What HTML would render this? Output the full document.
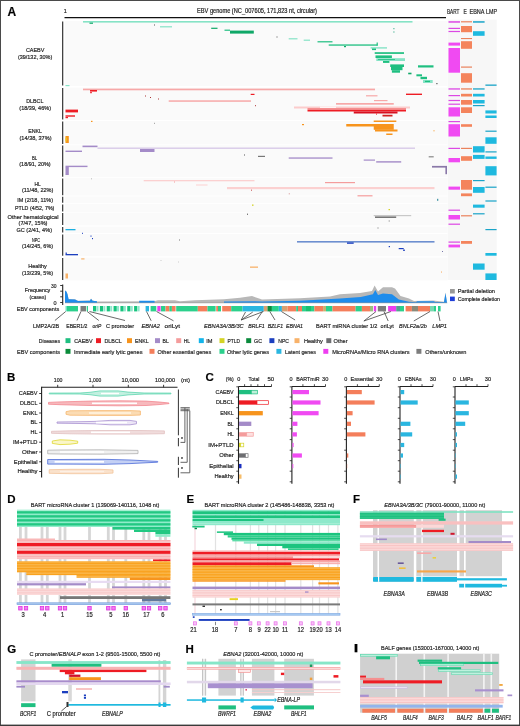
<!DOCTYPE html>
<html><head><meta charset="utf-8"><style>
html,body{margin:0;padding:0;background:#fff;}
body{width:520px;height:726px;overflow:hidden;}
svg{display:block;will-change:transform;font-family:"Liberation Sans",sans-serif;}
text{stroke:#2a2a2a;stroke-width:0.2px;}
</style></head><body>
<svg width="520" height="726" viewBox="0 0 520 726">
<rect x="0" y="0" width="520" height="726" fill="#fff"/>
<text x="7.50" y="15.50" font-size="12" text-anchor="start" fill="#000" font-weight="bold">A</text>
<text x="63.80" y="13.20" font-size="6.2" text-anchor="start" fill="#222" font-weight="normal" textLength="3.07" lengthAdjust="spacingAndGlyphs">1</text>
<text x="197.00" y="13.20" font-size="6.4" text-anchor="start" fill="#222" font-weight="normal" textLength="120" lengthAdjust="spacingAndGlyphs">EBV genome (NC_007605, 171,823 nt, circular)</text>
<line x1="64.50" y1="17.60" x2="446.00" y2="17.60" stroke="#111" stroke-width="1.2" />
<text x="447.00" y="14.40" font-size="6.6" text-anchor="start" fill="#222" font-weight="normal" textLength="12.4" lengthAdjust="spacingAndGlyphs">BART</text>
<text x="463.60" y="14.40" font-size="6.6" text-anchor="start" fill="#222" font-weight="normal" textLength="3.3" lengthAdjust="spacingAndGlyphs">E</text>
<text x="469.50" y="14.40" font-size="6.6" text-anchor="start" fill="#222" font-weight="normal" textLength="15" lengthAdjust="spacingAndGlyphs">EBNA</text>
<text x="486.00" y="14.40" font-size="6.6" text-anchor="start" fill="#222" font-weight="normal" textLength="11" lengthAdjust="spacingAndGlyphs">LMP</text>
<rect x="447.70" y="19.60" width="49.00" height="260.40" fill="#f7f7f7" />
<rect x="65.00" y="21.10" width="382.70" height="64.80" fill="#fafafa" />
<line x1="62.70" y1="21.50" x2="62.70" y2="85.50" stroke="#222" stroke-width="1.1" />
<text x="25.90" y="52.40" font-size="6.0" text-anchor="start" fill="#222" font-weight="normal" textLength="18.5" lengthAdjust="spacingAndGlyphs">CAEBV</text>
<text x="17.90" y="58.60" font-size="6.0" text-anchor="start" fill="#222" font-weight="normal" textLength="34.4" lengthAdjust="spacingAndGlyphs">(39/132, 30%)</text>
<rect x="65.00" y="87.60" width="382.70" height="32.40" fill="#fafafa" />
<line x1="62.70" y1="88.00" x2="62.70" y2="119.60" stroke="#222" stroke-width="1.1" />
<text x="26.20" y="103.00" font-size="6.0" text-anchor="start" fill="#222" font-weight="normal" textLength="17.2" lengthAdjust="spacingAndGlyphs">DLBCL</text>
<text x="19.30" y="109.60" font-size="6.0" text-anchor="start" fill="#222" font-weight="normal" textLength="31.7" lengthAdjust="spacingAndGlyphs">(18/39, 46%)</text>
<rect x="65.00" y="121.00" width="382.70" height="23.40" fill="#fafafa" />
<line x1="62.70" y1="121.40" x2="62.70" y2="144.00" stroke="#222" stroke-width="1.1" />
<text x="28.20" y="133.40" font-size="6.0" text-anchor="start" fill="#222" font-weight="normal" textLength="13.8" lengthAdjust="spacingAndGlyphs">ENKL</text>
<text x="19.50" y="139.80" font-size="6.0" text-anchor="start" fill="#222" font-weight="normal" textLength="32.0" lengthAdjust="spacingAndGlyphs">(14/38, 37%)</text>
<rect x="65.00" y="145.20" width="382.70" height="32.00" fill="#fafafa" />
<line x1="62.70" y1="145.60" x2="62.70" y2="176.80" stroke="#222" stroke-width="1.1" />
<text x="32.00" y="159.50" font-size="6.0" text-anchor="start" fill="#222" font-weight="normal" textLength="5.2" lengthAdjust="spacingAndGlyphs">BL</text>
<text x="19.30" y="166.00" font-size="6.0" text-anchor="start" fill="#222" font-weight="normal" textLength="31.4" lengthAdjust="spacingAndGlyphs">(18/91, 20%)</text>
<rect x="65.00" y="178.10" width="382.70" height="17.50" fill="#fafafa" />
<line x1="62.70" y1="178.50" x2="62.70" y2="195.20" stroke="#222" stroke-width="1.1" />
<text x="34.40" y="186.30" font-size="6.0" text-anchor="start" fill="#222" font-weight="normal" textLength="6.2" lengthAdjust="spacingAndGlyphs">HL</text>
<text x="22.00" y="192.20" font-size="6.0" text-anchor="start" fill="#222" font-weight="normal" textLength="31.4" lengthAdjust="spacingAndGlyphs">(11/48, 22%)</text>
<rect x="65.00" y="196.40" width="382.70" height="6.80" fill="#fafafa" />
<line x1="62.70" y1="196.80" x2="62.70" y2="202.80" stroke="#222" stroke-width="1.1" />
<text x="17.20" y="202.20" font-size="6.0" text-anchor="start" fill="#222" font-weight="normal" textLength="35.8" lengthAdjust="spacingAndGlyphs">IM (2/18, 11%)</text>
<rect x="65.00" y="204.10" width="382.70" height="7.80" fill="#fafafa" />
<line x1="62.70" y1="204.50" x2="62.70" y2="211.50" stroke="#222" stroke-width="1.1" />
<text x="14.90" y="210.00" font-size="6.0" text-anchor="start" fill="#222" font-weight="normal" textLength="39.5" lengthAdjust="spacingAndGlyphs">PTLD (4/52, 7%)</text>
<rect x="65.00" y="212.60" width="382.70" height="12.80" fill="#fafafa" />
<line x1="62.70" y1="213.00" x2="62.70" y2="225.00" stroke="#222" stroke-width="1.1" />
<text x="7.60" y="218.70" font-size="6.0" text-anchor="start" fill="#222" font-weight="normal" textLength="50.9" lengthAdjust="spacingAndGlyphs">Other hematological</text>
<text x="18.60" y="225.40" font-size="6.0" text-anchor="start" fill="#222" font-weight="normal" textLength="28.9" lengthAdjust="spacingAndGlyphs">(7/47, 15%)</text>
<rect x="65.00" y="226.60" width="382.70" height="6.40" fill="#fafafa" />
<line x1="62.70" y1="227.00" x2="62.70" y2="232.60" stroke="#222" stroke-width="1.1" />
<text x="16.50" y="231.90" font-size="6.0" text-anchor="start" fill="#222" font-weight="normal" textLength="35.5" lengthAdjust="spacingAndGlyphs">GC (2/41, 4%)</text>
<rect x="65.00" y="234.00" width="382.70" height="22.20" fill="#fafafa" />
<line x1="62.70" y1="234.40" x2="62.70" y2="255.80" stroke="#222" stroke-width="1.1" />
<text x="32.00" y="241.70" font-size="6.0" text-anchor="start" fill="#222" font-weight="normal" textLength="8" lengthAdjust="spacingAndGlyphs">NPC</text>
<text x="22.00" y="248.30" font-size="6.0" text-anchor="start" fill="#222" font-weight="normal" textLength="31" lengthAdjust="spacingAndGlyphs">(14/245, 6%)</text>
<rect x="65.00" y="257.60" width="382.70" height="22.80" fill="#fafafa" />
<line x1="62.70" y1="258.00" x2="62.70" y2="280.00" stroke="#222" stroke-width="1.1" />
<text x="28.20" y="268.30" font-size="6.0" text-anchor="start" fill="#222" font-weight="normal" textLength="18.6" lengthAdjust="spacingAndGlyphs">Healthy</text>
<text x="22.00" y="274.60" font-size="6.0" text-anchor="start" fill="#222" font-weight="normal" textLength="31" lengthAdjust="spacingAndGlyphs">(13/239, 5%)</text>
<rect x="83.00" y="21.00" width="329.50" height="1.60" fill="#86e3c6" />
<rect x="89.50" y="22.60" width="3.50" height="1.20" fill="#10a868" />
<rect x="160.00" y="26.20" width="12.00" height="1.20" fill="#86e3c6" />
<rect x="154.00" y="24.50" width="1.00" height="1.00" fill="#555" />
<rect x="393.30" y="28.20" width="1.20" height="1.00" fill="#3a8" />
<rect x="393.30" y="31.50" width="1.20" height="1.00" fill="#3a8" />
<rect x="65.50" y="85.00" width="4.00" height="1.20" fill="#86e3c6" />
<rect x="211.20" y="27.70" width="6.30" height="1.20" fill="#10a868" />
<rect x="224.50" y="29.60" width="5.50" height="1.20" fill="#1fbf80" />
<rect x="230.00" y="30.60" width="23.80" height="3.00" fill="#10a868" />
<rect x="276.50" y="36.50" width="1.00" height="1.00" fill="#555" />
<rect x="288.70" y="38.20" width="8.80" height="1.20" fill="#86e3c6" />
<rect x="303.70" y="39.60" width="6.30" height="1.20" fill="#86e3c6" />
<rect x="317.50" y="41.20" width="15.00" height="1.20" fill="#1fbf80" />
<rect x="328.70" y="44.40" width="48.80" height="1.30" fill="#1fbf80" />
<rect x="344.00" y="46.00" width="2.00" height="1.20" fill="#10a868" />
<rect x="376.60" y="42.50" width="1.20" height="3.20" fill="#1fbf80" />
<rect x="370.60" y="47.20" width="16.40" height="1.40" fill="#86e3c6" />
<rect x="372.00" y="48.50" width="4.00" height="1.60" fill="#1fbf80" />
<rect x="374.70" y="52.20" width="29.30" height="1.70" fill="#1fbf80" />
<rect x="375.50" y="55.40" width="16.40" height="2.60" fill="#1fbf80" />
<rect x="376.30" y="58.20" width="28.70" height="2.80" fill="#86e3c6" />
<rect x="378.00" y="59.20" width="17.00" height="0.80" fill="#1fbf80" />
<rect x="383.00" y="61.00" width="6.40" height="1.90" fill="#1fbf80" />
<rect x="390.20" y="64.40" width="13.80" height="2.60" fill="#1fbf80" />
<rect x="391.00" y="67.00" width="11.50" height="3.20" fill="#1fbf80" />
<rect x="391.90" y="70.20" width="8.10" height="2.50" fill="#1fbf80" />
<rect x="418.00" y="65.30" width="15.50" height="2.20" fill="#1fbf80" />
<rect x="408.20" y="72.70" width="3.30" height="1.60" fill="#10a868" />
<rect x="416.40" y="74.30" width="5.60" height="2.00" fill="#1fbf80" />
<rect x="420.50" y="76.80" width="6.50" height="2.40" fill="#1fbf80" />
<rect x="423.00" y="80.00" width="9.70" height="3.00" fill="#86e3c6" />
<rect x="425.00" y="80.80" width="5.00" height="1.20" fill="#1fbf80" />
<rect x="436.30" y="83.00" width="1.20" height="1.20" fill="#555" />
<rect x="83.00" y="88.60" width="292.00" height="1.70" fill="#f7a8a8" />
<rect x="90.00" y="90.00" width="7.00" height="1.60" fill="#ee1c24" />
<rect x="90.00" y="92.20" width="2.00" height="1.00" fill="#ee1c24" />
<rect x="145.00" y="95.50" width="1.00" height="1.00" fill="#a33" />
<rect x="150.00" y="97.00" width="1.00" height="1.00" fill="#a33" />
<rect x="158.00" y="98.50" width="1.00" height="1.00" fill="#a33" />
<rect x="250.70" y="93.80" width="3.80" height="1.20" fill="#ee1c24" />
<rect x="406.00" y="93.60" width="16.00" height="1.40" fill="#ee1c24" />
<rect x="366.00" y="95.20" width="11.50" height="1.20" fill="#f7a8a8" />
<rect x="168.70" y="100.30" width="82.30" height="1.50" fill="#f7a8a8" />
<rect x="374.00" y="100.00" width="13.50" height="1.20" fill="#f7a8a8" />
<rect x="255.00" y="105.20" width="1.00" height="1.00" fill="#a33" />
<rect x="336.00" y="103.00" width="57.75" height="1.70" fill="#f7a8a8" />
<rect x="294.00" y="106.50" width="116.00" height="2.00" fill="#fbcccc" />
<rect x="320.00" y="106.50" width="16.00" height="2.00" fill="#fff4f4" />
<rect x="65.50" y="109.60" width="12.50" height="2.80" fill="#ee1c24" />
<rect x="307.50" y="108.00" width="98.50" height="1.75" fill="#f59090" />
<rect x="307.50" y="109.75" width="98.50" height="1.75" fill="#ee1c24" />
<rect x="353.75" y="111.50" width="43.75" height="2.00" fill="#d81020" />
<rect x="376.00" y="113.60" width="1.00" height="1.00" fill="#ee1c24" />
<rect x="382.50" y="114.75" width="10.00" height="1.75" fill="#d02020" />
<rect x="65.50" y="115.30" width="9.50" height="1.40" fill="#ee1c24" />
<rect x="65.50" y="117.00" width="2.50" height="1.20" fill="#ee1c24" />
<rect x="91.00" y="120.80" width="1.50" height="1.20" fill="#f7941d" />
<rect x="154.00" y="122.80" width="1.00" height="1.00" fill="#999" />
<rect x="302.00" y="124.00" width="2.00" height="1.20" fill="#f7941d" />
<rect x="373.70" y="120.50" width="22.60" height="1.50" fill="#f7941d" />
<rect x="346.25" y="124.00" width="30.00" height="2.50" fill="#f7941d" />
<rect x="373.75" y="124.00" width="20.00" height="5.80" fill="#f7941d" />
<rect x="375.00" y="129.50" width="22.50" height="2.00" fill="#f7941d" />
<rect x="386.25" y="133.50" width="6.25" height="1.50" fill="#f7941d" />
<rect x="433.50" y="130.30" width="1.00" height="1.00" fill="#f7941d" />
<rect x="65.50" y="136.00" width="3.30" height="7.00" fill="#f7941d" />
<rect x="65.50" y="137.50" width="1.50" height="4.00" fill="#e8c020" />
<rect x="82.50" y="145.60" width="15.00" height="1.60" fill="#a48bc8" />
<rect x="97.50" y="147.50" width="317.50" height="1.40" fill="#d8c9e8" />
<rect x="65.50" y="150.60" width="16.50" height="1.40" fill="#a48bc8" />
<rect x="140.00" y="149.00" width="14.50" height="3.00" fill="#a48bc8" />
<rect x="244.00" y="154.50" width="1.00" height="1.00" fill="#555" />
<rect x="258.00" y="155.80" width="7.00" height="1.20" fill="#777" />
<rect x="288.70" y="157.40" width="43.80" height="1.30" fill="#a48bc8" />
<rect x="363.70" y="159.50" width="11.30" height="1.20" fill="#a48bc8" />
<rect x="376.20" y="161.20" width="25.00" height="1.40" fill="#a48bc8" />
<rect x="428.70" y="156.20" width="5.00" height="1.20" fill="#888" />
<rect x="432.00" y="165.90" width="15.00" height="1.70" fill="#8a78a8" />
<rect x="445.40" y="166.00" width="1.60" height="8.20" fill="#8a78a8" />
<rect x="65.50" y="165.70" width="22.00" height="1.40" fill="#a48bc8" />
<rect x="65.50" y="167.00" width="3.30" height="8.00" fill="#a48bc8" />
<rect x="91.00" y="178.30" width="1.00" height="1.00" fill="#bbb" />
<rect x="143.70" y="180.00" width="110.80" height="1.30" fill="#fbd0d0" />
<rect x="174.00" y="181.50" width="1.00" height="1.00" fill="#f49c9c" />
<rect x="196.00" y="184.50" width="11.50" height="1.00" fill="#fbd0d0" />
<rect x="227.00" y="187.00" width="207.50" height="2.20" fill="#fbd0d0" />
<rect x="251.00" y="189.60" width="1.00" height="1.20" fill="#c66" />
<rect x="288.70" y="193.30" width="1.30" height="1.00" fill="#daa" />
<rect x="325.00" y="182.00" width="30.00" height="1.20" fill="#f49c9c" />
<rect x="357.50" y="195.20" width="15.00" height="1.20" fill="#f49c9c" />
<rect x="437.00" y="198.80" width="1.30" height="2.00" fill="#4a9aa8" />
<rect x="252.00" y="204.50" width="1.50" height="1.30" fill="#d4d324" />
<rect x="388.50" y="209.00" width="1.50" height="1.20" fill="#d4d324" />
<rect x="247.00" y="213.70" width="1.00" height="1.00" fill="#444" />
<rect x="373.70" y="215.00" width="37.50" height="1.20" fill="#c8c8c8" />
<rect x="375.00" y="216.40" width="21.20" height="1.60" fill="#777" />
<rect x="388.70" y="220.50" width="1.00" height="1.00" fill="#777" />
<rect x="377.50" y="227.50" width="1.00" height="1.00" fill="#777" />
<rect x="65.50" y="229.00" width="10.00" height="1.30" fill="#1aaee0" />
<rect x="82.00" y="232.80" width="1.00" height="1.00" fill="#1c3fbf" />
<rect x="90.50" y="235.50" width="1.00" height="1.20" fill="#1c3fbf" />
<rect x="92.00" y="238.00" width="1.00" height="1.20" fill="#1c3fbf" />
<rect x="179.00" y="239.50" width="1.00" height="1.00" fill="#777" />
<rect x="297.00" y="241.00" width="137.50" height="1.60" fill="#6d8fd0" />
<rect x="347.00" y="242.40" width="6.70" height="1.40" fill="#1c3fbf" />
<rect x="388.70" y="246.00" width="1.30" height="1.20" fill="#1c3fbf" />
<rect x="398.70" y="248.00" width="5.00" height="1.20" fill="#1c3fbf" />
<rect x="403.00" y="249.60" width="2.00" height="1.20" fill="#1c3fbf" />
<rect x="442.00" y="251.00" width="1.00" height="1.00" fill="#77a" />
<rect x="65.50" y="254.00" width="12.50" height="1.30" fill="#1c3fbf" />
<rect x="65.50" y="252.60" width="1.50" height="1.20" fill="#1c3fbf" />
<rect x="81.20" y="258.30" width="3.30" height="1.20" fill="#f8b26a" />
<rect x="160.50" y="260.00" width="1.00" height="1.00" fill="#ccc" />
<rect x="178.00" y="261.50" width="1.00" height="1.00" fill="#ccc" />
<rect x="250.00" y="266.50" width="8.00" height="1.30" fill="#f8b26a" />
<rect x="441.00" y="271.50" width="1.00" height="1.10" fill="#f8b26a" />
<rect x="65.50" y="273.50" width="2.50" height="5.00" fill="#f8b26a" />
<rect x="448.50" y="21.20" width="11.50" height="1.50" fill="#dc48e4" />
<rect x="461.00" y="21.20" width="11.00" height="1.20" fill="#ea825c" />
<rect x="473.00" y="21.20" width="11.60" height="1.50" fill="#1aa4c8" />
<rect x="448.50" y="27.80" width="11.50" height="1.20" fill="#dc48e4" />
<rect x="448.50" y="30.90" width="11.50" height="1.20" fill="#dc48e4" />
<rect x="461.00" y="26.00" width="11.00" height="6.20" fill="#f4845c" />
<rect x="473.00" y="31.20" width="11.60" height="4.60" fill="#1fb9df" />
<rect x="461.00" y="38.00" width="11.00" height="1.10" fill="#ea825c" />
<rect x="448.50" y="42.60" width="11.50" height="3.00" fill="#f04af2" />
<rect x="461.00" y="41.20" width="11.00" height="7.60" fill="#f4845c" />
<rect x="448.50" y="48.00" width="11.50" height="24.70" fill="#f04af2" />
<rect x="461.00" y="66.50" width="11.00" height="1.20" fill="#ea825c" />
<rect x="461.00" y="73.20" width="11.00" height="9.50" fill="#f4845c" />
<rect x="485.40" y="84.50" width="11.20" height="1.30" fill="#1aa4c8" />
<rect x="448.50" y="88.30" width="11.50" height="1.30" fill="#dc48e4" />
<rect x="461.00" y="88.30" width="11.00" height="1.30" fill="#ea825c" />
<rect x="473.00" y="88.30" width="11.60" height="1.30" fill="#1aa4c8" />
<rect x="448.50" y="95.00" width="11.50" height="1.20" fill="#dc48e4" />
<rect x="461.00" y="93.80" width="11.00" height="2.70" fill="#f4845c" />
<rect x="473.00" y="93.80" width="11.60" height="2.70" fill="#1fb9df" />
<rect x="448.50" y="99.90" width="11.50" height="1.20" fill="#dc48e4" />
<rect x="448.50" y="103.60" width="11.50" height="1.20" fill="#dc48e4" />
<rect x="461.00" y="100.00" width="11.00" height="4.70" fill="#f4845c" />
<rect x="473.00" y="100.00" width="11.60" height="3.50" fill="#1fb9df" />
<rect x="473.00" y="105.00" width="11.60" height="1.20" fill="#1aa4c8" />
<rect x="448.50" y="107.30" width="11.50" height="9.20" fill="#f04af2" />
<rect x="461.00" y="107.30" width="11.00" height="5.70" fill="#f4845c" />
<rect x="485.40" y="110.40" width="11.20" height="3.10" fill="#1fb9df" />
<rect x="485.40" y="115.50" width="11.20" height="2.50" fill="#1fb9df" />
<rect x="448.50" y="121.00" width="11.50" height="1.20" fill="#dc48e4" />
<rect x="448.50" y="124.20" width="11.50" height="12.30" fill="#f04af2" />
<rect x="461.00" y="124.20" width="11.00" height="2.60" fill="#f4845c" />
<rect x="485.40" y="130.60" width="11.20" height="1.20" fill="#1aa4c8" />
<rect x="485.40" y="137.30" width="11.20" height="6.50" fill="#1fb9df" />
<rect x="448.50" y="147.80" width="11.50" height="1.20" fill="#dc48e4" />
<rect x="461.00" y="147.80" width="11.00" height="1.20" fill="#ea825c" />
<rect x="473.00" y="146.20" width="11.60" height="6.30" fill="#1fb9df" />
<rect x="485.40" y="151.30" width="11.20" height="1.20" fill="#1aa4c8" />
<rect x="473.00" y="154.90" width="11.60" height="4.00" fill="#1fb9df" />
<rect x="485.40" y="156.50" width="11.20" height="2.40" fill="#1fb9df" />
<rect x="448.50" y="158.00" width="11.50" height="4.30" fill="#f04af2" />
<rect x="461.00" y="156.20" width="11.00" height="4.60" fill="#f4845c" />
<rect x="485.40" y="166.20" width="11.20" height="9.20" fill="#1fb9df" />
<rect x="461.00" y="180.00" width="11.00" height="9.70" fill="#f4845c" />
<rect x="473.00" y="180.00" width="11.60" height="1.20" fill="#1aa4c8" />
<rect x="448.50" y="186.60" width="11.50" height="3.10" fill="#f04af2" />
<rect x="473.00" y="187.00" width="11.60" height="5.80" fill="#1fb9df" />
<rect x="485.40" y="186.60" width="11.20" height="1.20" fill="#1aa4c8" />
<rect x="461.00" y="193.40" width="11.00" height="2.80" fill="#f4845c" />
<rect x="485.40" y="200.40" width="11.20" height="1.20" fill="#1aa4c8" />
<rect x="473.00" y="204.60" width="11.60" height="3.10" fill="#1fb9df" />
<rect x="448.50" y="209.60" width="11.50" height="1.20" fill="#dc48e4" />
<rect x="473.00" y="213.20" width="11.60" height="1.20" fill="#1aa4c8" />
<rect x="461.00" y="215.20" width="11.00" height="1.20" fill="#ea825c" />
<rect x="448.50" y="215.00" width="11.50" height="4.50" fill="#f04af2" />
<rect x="448.50" y="223.60" width="11.50" height="1.20" fill="#dc48e4" />
<rect x="485.40" y="229.00" width="11.20" height="1.20" fill="#1aa4c8" />
<rect x="448.50" y="241.50" width="11.50" height="1.20" fill="#dc48e4" />
<rect x="461.00" y="241.00" width="11.00" height="2.80" fill="#f4845c" />
<rect x="448.50" y="244.60" width="11.50" height="2.80" fill="#f04af2" />
<rect x="485.40" y="253.00" width="11.20" height="2.70" fill="#1fb9df" />
<rect x="473.00" y="263.50" width="11.60" height="6.20" fill="#1fb9df" />
<rect x="485.40" y="273.40" width="11.20" height="6.60" fill="#1fb9df" />
<line x1="62.70" y1="284.40" x2="62.70" y2="305.00" stroke="#222" stroke-width="1.1" />
<line x1="60.20" y1="285.50" x2="62.70" y2="285.50" stroke="#222" stroke-width="0.9" />
<line x1="60.20" y1="291.20" x2="62.70" y2="291.20" stroke="#222" stroke-width="0.9" />
<line x1="60.20" y1="296.80" x2="62.70" y2="296.80" stroke="#222" stroke-width="0.9" />
<line x1="60.20" y1="302.50" x2="62.70" y2="302.50" stroke="#222" stroke-width="0.9" />
<text x="51.00" y="288.10" font-size="6.2" text-anchor="start" fill="#222" font-weight="normal" textLength="5.5" lengthAdjust="spacingAndGlyphs">30</text>
<text x="53.40" y="305.00" font-size="6.2" text-anchor="start" fill="#222" font-weight="normal" textLength="3.07" lengthAdjust="spacingAndGlyphs">0</text>
<text x="24.80" y="291.80" font-size="6.2" text-anchor="start" fill="#222" font-weight="normal" textLength="25.5" lengthAdjust="spacingAndGlyphs">Frequency</text>
<text x="29.60" y="298.60" font-size="6.2" text-anchor="start" fill="#222" font-weight="normal" textLength="16.5" lengthAdjust="spacingAndGlyphs">(cases)</text>
<path d="M65,303 L65,290.4 L66.5,291.5 L67.5,294 L68.6,299 L75,299.2 L78,300.7 L90,300.5 L91,298.5 L92.5,300.5 L97,301.5 L154,301.2 L158,300.2 L175,300.2 L180,301.2 L195,300.3 L224,299.3 L240,297.8 L252,296 L256,297.5 L262,299.5 L300,298.3 L330,296.5 L340,294.2 L360,293 L372,291 L374.6,285.6 L378,291.5 L383,287.3 L392,287.3 L395,288.5 L400.5,296 L409,298.4 L414,301 L433,300.4 L444,301.8 L445.5,292.5 L447,303 Z" fill="#b8b8b8" />
<path d="M65,303 L65,290.6 L66.5,291.8 L67.5,294.2 L68.6,299.3 L75,299.4 L78,301 L90,300.8 L91,298.7 L92.5,300.8 L97,301.2 L97,303 L139.2,303 L139.2,300.8 L154.6,300.8 L154.6,303 L224,303 L224,301.4 L255,301.2 L262,301.6 L300,300.8 L340,298.4 L360.8,297 L372.9,294.2 L375.3,290 L378,295 L383,293.5 L392,294.2 L398.8,299.4 L409,301.8 L416,302.2 L417,301.2 L434,301.2 L435,302 L444,302 L445.5,293 L447,303 Z" fill="#1e8cec" />
<rect x="65.00" y="302.60" width="382.30" height="0.60" fill="#9a9a9a" />
<rect x="450.00" y="289.00" width="4.80" height="4.50" fill="#999" />
<text x="457.70" y="293.20" font-size="5.8" text-anchor="start" fill="#222" font-weight="normal" textLength="37.3" lengthAdjust="spacingAndGlyphs">Partial deletion</text>
<rect x="450.00" y="296.60" width="4.80" height="4.50" fill="#1f3fd8" />
<text x="457.70" y="300.80" font-size="5.8" text-anchor="start" fill="#222" font-weight="normal" textLength="42.3" lengthAdjust="spacingAndGlyphs">Complete deletion</text>
<text x="16.80" y="311.20" font-size="6.2" text-anchor="start" fill="#222" font-weight="normal" textLength="42.4" lengthAdjust="spacingAndGlyphs">EBV components</text>
<rect x="65.50" y="306.00" width="1.50" height="5.40" fill="#6fe3c0" />
<rect x="67.00" y="306.00" width="11.00" height="5.40" fill="#2bd08c" />
<rect x="80.50" y="306.00" width="5.50" height="5.40" fill="#7d7d7d" />
<rect x="86.70" y="306.00" width="1.30" height="5.40" fill="#2bd08c" />
<rect x="93.00" y="306.00" width="3.20" height="5.40" fill="#18c47e" />
<rect x="96.50" y="306.00" width="2.00" height="5.40" fill="#8fe8cc" />
<rect x="99.85" y="306.00" width="3.20" height="5.40" fill="#18c47e" />
<rect x="103.35" y="306.00" width="2.00" height="5.40" fill="#8fe8cc" />
<rect x="106.70" y="306.00" width="3.20" height="5.40" fill="#18c47e" />
<rect x="110.20" y="306.00" width="2.00" height="5.40" fill="#8fe8cc" />
<rect x="113.55" y="306.00" width="3.20" height="5.40" fill="#18c47e" />
<rect x="117.05" y="306.00" width="2.00" height="5.40" fill="#8fe8cc" />
<rect x="120.40" y="306.00" width="3.20" height="5.40" fill="#18c47e" />
<rect x="123.90" y="306.00" width="2.00" height="5.40" fill="#8fe8cc" />
<rect x="127.25" y="306.00" width="3.20" height="5.40" fill="#18c47e" />
<rect x="130.75" y="306.00" width="2.00" height="5.40" fill="#8fe8cc" />
<rect x="134.10" y="306.00" width="3.20" height="5.40" fill="#18c47e" />
<rect x="137.60" y="306.00" width="2.00" height="5.40" fill="#8fe8cc" />
<rect x="145.60" y="306.00" width="3.40" height="5.40" fill="#2ab6e0" />
<rect x="150.60" y="306.00" width="5.70" height="5.40" fill="#2bd08c" />
<rect x="157.30" y="306.00" width="3.30" height="5.40" fill="#ee3ef0" />
<rect x="161.00" y="306.00" width="4.50" height="5.40" fill="#2bd08c" />
<rect x="165.60" y="306.00" width="3.80" height="5.40" fill="#f47e5b" />
<rect x="169.40" y="306.00" width="2.50" height="5.40" fill="#2bd08c" />
<rect x="171.90" y="306.00" width="3.70" height="5.40" fill="#f47e5b" />
<rect x="176.20" y="306.00" width="21.60" height="5.40" fill="#2bd08c" />
<rect x="197.80" y="306.00" width="9.70" height="5.40" fill="#f47e5b" />
<rect x="207.50" y="306.00" width="8.10" height="5.40" fill="#2bd08c" />
<rect x="216.20" y="306.00" width="1.80" height="5.40" fill="#f47e5b" />
<rect x="218.00" y="306.00" width="3.00" height="5.40" fill="#2bd08c" />
<rect x="222.20" y="306.00" width="9.00" height="5.40" fill="#f47e5b" />
<rect x="231.20" y="306.00" width="11.30" height="5.40" fill="#2bd08c" />
<rect x="242.50" y="306.00" width="21.30" height="5.40" fill="#2ab6e0" />
<rect x="263.80" y="306.00" width="3.70" height="5.40" fill="#d9a070" />
<rect x="267.50" y="306.00" width="4.40" height="5.40" fill="#0b8c3a" />
<rect x="271.90" y="306.00" width="6.90" height="5.40" fill="#2bd08c" />
<rect x="278.80" y="306.00" width="3.10" height="5.40" fill="#2ab6e0" />
<rect x="281.90" y="306.00" width="5.60" height="5.40" fill="#d9a070" />
<rect x="287.50" y="306.00" width="8.70" height="5.40" fill="#f47e5b" />
<rect x="296.20" y="306.00" width="1.80" height="5.40" fill="#2bd08c" />
<rect x="298.00" y="306.00" width="4.00" height="5.40" fill="#f47e5b" />
<rect x="302.00" y="306.00" width="4.00" height="5.40" fill="#2bd08c" />
<rect x="306.00" y="306.00" width="5.00" height="5.40" fill="#19c070" />
<rect x="311.00" y="306.00" width="3.40" height="5.40" fill="#2bd08c" />
<rect x="314.40" y="306.00" width="8.70" height="5.40" fill="#f47e5b" />
<rect x="323.10" y="306.00" width="2.90" height="5.40" fill="#c9b070" />
<rect x="326.00" y="306.00" width="6.50" height="5.40" fill="#2bd08c" />
<rect x="332.50" y="306.00" width="23.10" height="5.40" fill="#f47e5b" />
<rect x="355.60" y="306.00" width="6.30" height="5.40" fill="#2bd08c" />
<rect x="361.90" y="306.00" width="8.10" height="5.40" fill="#f47e5b" />
<rect x="370.00" y="306.00" width="3.00" height="5.40" fill="#9ac080" />
<rect x="373.80" y="306.00" width="2.40" height="5.40" fill="#ee3ef0" />
<rect x="377.80" y="306.00" width="8.20" height="5.40" fill="#7d7d7d" />
<rect x="388.10" y="306.00" width="8.10" height="5.40" fill="#ee3ef0" />
<rect x="396.20" y="306.00" width="3.80" height="5.40" fill="#55a090" />
<rect x="400.00" y="306.00" width="4.00" height="5.40" fill="#2bd08c" />
<rect x="405.60" y="306.00" width="6.30" height="5.40" fill="#f47e5b" />
<rect x="411.90" y="306.00" width="6.10" height="5.40" fill="#8a8a7a" />
<rect x="418.00" y="306.00" width="12.00" height="5.40" fill="#f47e5b" />
<rect x="430.00" y="306.00" width="4.00" height="5.40" fill="#7ad8b0" />
<rect x="434.00" y="306.00" width="2.00" height="5.40" fill="#2bd08c" />
<rect x="438.00" y="306.00" width="2.60" height="5.40" fill="#2bd08c" />
<line x1="65.70" y1="311.50" x2="54.90" y2="320.50" stroke="#444" stroke-width="0.8" />
<line x1="81.00" y1="311.50" x2="77.00" y2="320.50" stroke="#444" stroke-width="0.8" />
<line x1="87.20" y1="311.50" x2="98.80" y2="320.50" stroke="#444" stroke-width="0.8" />
<line x1="89.50" y1="311.50" x2="125.00" y2="320.50" stroke="#444" stroke-width="0.8" />
<line x1="146.50" y1="311.50" x2="151.20" y2="320.80" stroke="#444" stroke-width="0.8" />
<line x1="156.50" y1="311.50" x2="173.50" y2="320.80" stroke="#444" stroke-width="0.8" />
<line x1="245.50" y1="312.00" x2="241.20" y2="320.00" stroke="#444" stroke-width="0.8" />
<line x1="252.80" y1="312.00" x2="241.20" y2="320.00" stroke="#444" stroke-width="0.8" />
<line x1="263.40" y1="311.50" x2="241.20" y2="320.00" stroke="#444" stroke-width="0.8" />
<line x1="262.40" y1="311.50" x2="256.70" y2="320.00" stroke="#444" stroke-width="0.8" />
<line x1="269.80" y1="311.50" x2="275.00" y2="320.00" stroke="#444" stroke-width="0.8" />
<line x1="281.40" y1="311.50" x2="295.10" y2="320.00" stroke="#444" stroke-width="0.8" />
<line x1="376.00" y1="311.50" x2="363.90" y2="321.00" stroke="#444" stroke-width="0.8" />
<line x1="390.90" y1="311.50" x2="363.90" y2="321.00" stroke="#444" stroke-width="0.8" />
<line x1="384.00" y1="311.50" x2="388.20" y2="321.00" stroke="#444" stroke-width="0.8" />
<line x1="430.00" y1="311.50" x2="413.80" y2="321.00" stroke="#444" stroke-width="0.8" />
<line x1="438.00" y1="311.50" x2="440.00" y2="321.00" stroke="#444" stroke-width="0.8" />
<text x="33.00" y="328.40" font-size="6.2" text-anchor="start" fill="#222" font-weight="normal" textLength="26.2" lengthAdjust="spacingAndGlyphs">LMP2A/2B</text>
<text x="66.20" y="328.40" font-size="6.2" text-anchor="start" fill="#222" font-weight="normal" textLength="21.3" lengthAdjust="spacingAndGlyphs">EBER1/2</text>
<text x="92.50" y="328.40" font-size="6.2" text-anchor="start" fill="#222" font-weight="normal" font-style="italic" textLength="8.7" lengthAdjust="spacingAndGlyphs">oriP</text>
<text x="106.00" y="328.40" font-size="6.2" text-anchor="start" fill="#222" font-weight="normal" textLength="28" lengthAdjust="spacingAndGlyphs">C promoter</text>
<text x="141.50" y="328.40" font-size="6.2" text-anchor="start" fill="#222" font-weight="normal" font-style="italic" textLength="18.5" lengthAdjust="spacingAndGlyphs">EBNA2</text>
<text x="164.60" y="328.40" font-size="6.2" text-anchor="start" fill="#222" font-weight="normal" textLength="15.4" lengthAdjust="spacingAndGlyphs">oriLyt</text>
<text x="204.00" y="328.40" font-size="6.2" text-anchor="start" fill="#222" font-weight="normal" font-style="italic" textLength="39.7" lengthAdjust="spacingAndGlyphs">EBNA3A/3B/3C</text>
<text x="248.30" y="328.40" font-size="6.2" text-anchor="start" fill="#222" font-weight="normal" font-style="italic" textLength="16.3" lengthAdjust="spacingAndGlyphs">BRLF1</text>
<text x="267.70" y="328.40" font-size="6.2" text-anchor="start" fill="#222" font-weight="normal" font-style="italic" textLength="15.3" lengthAdjust="spacingAndGlyphs">BZLF1</text>
<text x="286.00" y="328.40" font-size="6.2" text-anchor="start" fill="#222" font-weight="normal" font-style="italic" textLength="17" lengthAdjust="spacingAndGlyphs">EBNA1</text>
<text x="316.00" y="328.40" font-size="6.2" text-anchor="start" fill="#222" font-weight="normal" textLength="61.5" lengthAdjust="spacingAndGlyphs">BART miRNA cluster 1/2</text>
<text x="380.60" y="328.40" font-size="6.2" text-anchor="start" fill="#222" font-weight="normal" textLength="13.2" lengthAdjust="spacingAndGlyphs">oriLyt</text>
<text x="399.00" y="328.40" font-size="6.2" text-anchor="start" fill="#222" font-weight="normal" font-style="italic" textLength="27.8" lengthAdjust="spacingAndGlyphs">BNLF2a/2b</text>
<text x="432.30" y="328.40" font-size="6.2" text-anchor="start" fill="#222" font-weight="normal" font-style="italic" textLength="14.7" lengthAdjust="spacingAndGlyphs">LMP1</text>
<text x="60.00" y="342.80" font-size="6.2" text-anchor="end" fill="#222" font-weight="normal" textLength="21.2" lengthAdjust="spacingAndGlyphs">Diseases</text>
<rect x="65.50" y="338.20" width="5.00" height="4.90" fill="#1fbf80" />
<text x="74.20" y="342.80" font-size="6.2" text-anchor="start" fill="#222" font-weight="normal" textLength="18.3" lengthAdjust="spacingAndGlyphs">CAEBV</text>
<rect x="96.00" y="338.20" width="5.00" height="4.90" fill="#ee1c24" />
<text x="104.50" y="342.80" font-size="6.2" text-anchor="start" fill="#222" font-weight="normal" textLength="17.3" lengthAdjust="spacingAndGlyphs">DLBCL</text>
<rect x="127.00" y="338.20" width="5.00" height="4.90" fill="#f7941d" />
<text x="135.00" y="342.80" font-size="6.2" text-anchor="start" fill="#222" font-weight="normal" textLength="13.8" lengthAdjust="spacingAndGlyphs">ENKL</text>
<rect x="155.00" y="338.20" width="5.00" height="4.90" fill="#a48bc8" />
<text x="162.50" y="342.80" font-size="6.2" text-anchor="start" fill="#222" font-weight="normal" textLength="6.3" lengthAdjust="spacingAndGlyphs">BL</text>
<rect x="176.20" y="338.20" width="5.00" height="4.90" fill="#f49c9c" />
<text x="183.80" y="342.80" font-size="6.2" text-anchor="start" fill="#222" font-weight="normal" textLength="6.2" lengthAdjust="spacingAndGlyphs">HL</text>
<rect x="198.80" y="338.20" width="5.00" height="4.90" fill="#12b4ea" />
<text x="206.20" y="342.80" font-size="6.2" text-anchor="start" fill="#222" font-weight="normal" textLength="6.3" lengthAdjust="spacingAndGlyphs">IM</text>
<rect x="219.50" y="338.20" width="5.00" height="4.90" fill="#d4d324" />
<text x="227.50" y="342.80" font-size="6.2" text-anchor="start" fill="#222" font-weight="normal" textLength="12.5" lengthAdjust="spacingAndGlyphs">PTLD</text>
<rect x="246.20" y="338.20" width="5.00" height="4.90" fill="#0a8a3c" />
<text x="254.00" y="342.80" font-size="6.2" text-anchor="start" fill="#222" font-weight="normal" textLength="8" lengthAdjust="spacingAndGlyphs">GC</text>
<rect x="269.40" y="338.20" width="5.00" height="4.90" fill="#1c3fbf" />
<text x="278.30" y="342.80" font-size="6.2" text-anchor="start" fill="#222" font-weight="normal" textLength="10.7" lengthAdjust="spacingAndGlyphs">NPC</text>
<rect x="294.50" y="338.20" width="5.00" height="4.90" fill="#f8b26a" />
<text x="303.90" y="342.80" font-size="6.2" text-anchor="start" fill="#222" font-weight="normal" textLength="18.9" lengthAdjust="spacingAndGlyphs">Healthy</text>
<rect x="326.30" y="338.20" width="5.00" height="4.90" fill="#6d6e71" />
<text x="333.60" y="342.80" font-size="6.2" text-anchor="start" fill="#222" font-weight="normal" textLength="14.0" lengthAdjust="spacingAndGlyphs">Other</text>
<text x="60.00" y="353.80" font-size="6.2" text-anchor="end" fill="#222" font-weight="normal" textLength="43" lengthAdjust="spacingAndGlyphs">EBV components</text>
<rect x="65.50" y="348.90" width="5.00" height="4.90" fill="#0b8c3a" />
<text x="74.00" y="353.80" font-size="6.2" text-anchor="start" fill="#222" font-weight="normal" textLength="68.5" lengthAdjust="spacingAndGlyphs">Immediate early lytic genes</text>
<rect x="149.50" y="348.90" width="5.00" height="4.90" fill="#f47e5b" />
<text x="157.50" y="353.80" font-size="6.2" text-anchor="start" fill="#222" font-weight="normal" textLength="53.7" lengthAdjust="spacingAndGlyphs">Other essential genes</text>
<rect x="219.50" y="348.90" width="5.00" height="4.90" fill="#2bd08c" />
<text x="227.00" y="353.80" font-size="6.2" text-anchor="start" fill="#222" font-weight="normal" textLength="42" lengthAdjust="spacingAndGlyphs">Other lytic genes</text>
<rect x="276.40" y="348.90" width="5.00" height="4.90" fill="#2ab6e0" />
<text x="285.00" y="353.80" font-size="6.2" text-anchor="start" fill="#222" font-weight="normal" textLength="31" lengthAdjust="spacingAndGlyphs">Latent genes</text>
<rect x="323.30" y="348.90" width="5.00" height="4.90" fill="#ee3ef0" />
<text x="332.20" y="353.80" font-size="6.2" text-anchor="start" fill="#222" font-weight="normal" textLength="77.4" lengthAdjust="spacingAndGlyphs">MicroRNAs/Micro RNA clusters</text>
<rect x="416.40" y="348.90" width="5.00" height="4.90" fill="#7d7d7d" />
<text x="425.30" y="353.80" font-size="6.2" text-anchor="start" fill="#222" font-weight="normal" textLength="41.0" lengthAdjust="spacingAndGlyphs">Others/unknown</text>
<text x="7.00" y="380.80" font-size="11.5" text-anchor="start" fill="#000" font-weight="bold">B</text>
<text x="53.80" y="381.80" font-size="6.2" text-anchor="start" fill="#222" font-weight="normal" textLength="8.7" lengthAdjust="spacingAndGlyphs">100</text>
<text x="88.80" y="381.80" font-size="6.2" text-anchor="start" fill="#222" font-weight="normal" textLength="12.4" lengthAdjust="spacingAndGlyphs">1,000</text>
<text x="121.50" y="381.80" font-size="6.2" text-anchor="start" fill="#222" font-weight="normal" textLength="17.5" lengthAdjust="spacingAndGlyphs">10,000</text>
<text x="155.00" y="381.80" font-size="6.2" text-anchor="start" fill="#222" font-weight="normal" textLength="20" lengthAdjust="spacingAndGlyphs">100,000</text>
<text x="181.00" y="381.80" font-size="6.2" text-anchor="start" fill="#222" font-weight="normal" textLength="9" lengthAdjust="spacingAndGlyphs">(nt)</text>
<line x1="41.60" y1="387.30" x2="177.50" y2="387.30" stroke="#222" stroke-width="1.1" />
<line x1="41.60" y1="386.80" x2="41.60" y2="477.50" stroke="#222" stroke-width="1.1" />
<line x1="57.70" y1="384.80" x2="57.70" y2="387.30" stroke="#222" stroke-width="0.9" />
<line x1="93.00" y1="384.80" x2="93.00" y2="387.30" stroke="#222" stroke-width="0.9" />
<line x1="128.30" y1="384.80" x2="128.30" y2="387.30" stroke="#222" stroke-width="0.9" />
<line x1="163.60" y1="384.80" x2="163.60" y2="387.30" stroke="#222" stroke-width="0.9" />
<line x1="178.40" y1="389.50" x2="178.40" y2="435.30" stroke="#333" stroke-width="1.0" />
<line x1="178.40" y1="438.00" x2="178.40" y2="446.30" stroke="#333" stroke-width="1.0" />
<line x1="178.40" y1="456.80" x2="178.40" y2="465.00" stroke="#333" stroke-width="1.0" />
<line x1="178.40" y1="467.80" x2="178.40" y2="477.70" stroke="#333" stroke-width="1.0" />
<text x="37.50" y="395.20" font-size="6.2" text-anchor="end" fill="#222" font-weight="normal" textLength="18.75" lengthAdjust="spacingAndGlyphs">CAEBV</text>
<line x1="39.20" y1="393.50" x2="41.60" y2="393.50" stroke="#222" stroke-width="0.9" />
<text x="37.50" y="405.00" font-size="6.2" text-anchor="end" fill="#222" font-weight="normal" textLength="17.5" lengthAdjust="spacingAndGlyphs">DLBCL</text>
<line x1="39.20" y1="403.30" x2="41.60" y2="403.30" stroke="#222" stroke-width="0.9" />
<text x="37.50" y="414.70" font-size="6.2" text-anchor="end" fill="#222" font-weight="normal" textLength="14.5" lengthAdjust="spacingAndGlyphs">ENKL</text>
<line x1="39.20" y1="413.00" x2="41.60" y2="413.00" stroke="#222" stroke-width="0.9" />
<text x="37.50" y="424.30" font-size="6.2" text-anchor="end" fill="#222" font-weight="normal" textLength="7" lengthAdjust="spacingAndGlyphs">BL</text>
<line x1="39.20" y1="422.60" x2="41.60" y2="422.60" stroke="#222" stroke-width="0.9" />
<text x="37.50" y="434.00" font-size="6.2" text-anchor="end" fill="#222" font-weight="normal" textLength="7" lengthAdjust="spacingAndGlyphs">HL</text>
<line x1="39.20" y1="432.30" x2="41.60" y2="432.30" stroke="#222" stroke-width="0.9" />
<text x="37.50" y="443.90" font-size="6.2" text-anchor="end" fill="#222" font-weight="normal" textLength="24.5" lengthAdjust="spacingAndGlyphs">IM+PTLD</text>
<line x1="39.20" y1="442.20" x2="41.60" y2="442.20" stroke="#222" stroke-width="0.9" />
<text x="37.50" y="453.70" font-size="6.2" text-anchor="end" fill="#222" font-weight="normal" textLength="15.5" lengthAdjust="spacingAndGlyphs">Other</text>
<line x1="39.20" y1="452.00" x2="41.60" y2="452.00" stroke="#222" stroke-width="0.9" />
<text x="37.50" y="463.50" font-size="6.2" text-anchor="end" fill="#222" font-weight="normal" textLength="23.75" lengthAdjust="spacingAndGlyphs">Epithelial</text>
<line x1="39.20" y1="461.80" x2="41.60" y2="461.80" stroke="#222" stroke-width="0.9" />
<text x="37.50" y="473.20" font-size="6.2" text-anchor="end" fill="#222" font-weight="normal" textLength="20" lengthAdjust="spacingAndGlyphs">Healthy</text>
<line x1="39.20" y1="471.50" x2="41.60" y2="471.50" stroke="#222" stroke-width="0.9" />
<path d="M49.2,393.1 L80,393.0 L90,392.3 L100,390.9 L118,390.9 L128,392.1 L144,393.0 L171,393.1 L171,393.9 L144,394.0 L128,394.9 L118,396.1 L100,396.1 L90,394.7 L80,394.0 L49.2,393.9 Z" fill="#c2f0e0" stroke="#5fd6b0" stroke-width="0.8"/>
<rect x="101.00" y="392.80" width="18.00" height="1.40" fill="#ffffff" />
<path d="M48.5,402.40000000000003 L60,401.90000000000003 L90,401.1 L120,400.8 L146,401.1 L160,402.1 L169,403.0 L169,403.6 L160,404.5 L146,405.5 L120,405.8 L90,405.5 L60,404.7 L48.5,404.2 Z" fill="#f7b9bd" stroke="#f28890" stroke-width="0.8"/>
<rect x="92.00" y="402.50" width="45.00" height="1.60" fill="#ffffff" />
<path d="M66,411.7 L70,410.8 L100,410.6 L130,410.6 L140.4,411.0 L140.4,415.0 L130,415.4 L100,415.4 L70,415.2 L66,414.3 Z" fill="#fbdcb4" stroke="#f6b870" stroke-width="0.8"/>
<rect x="89.00" y="412.20" width="42.00" height="1.60" fill="#fff4e0" />
<path d="M57,422.0 L80,421.70000000000005 L95,421.40000000000003 L110,420.40000000000003 L130,420.40000000000003 L136.5,421.40000000000003 L136.5,423.8 L130,424.8 L110,424.8 L95,423.8 L80,423.5 L57,423.20000000000005 Z" fill="#ece6f6" stroke="#a890d0" stroke-width="0.8"/>
<rect x="96.00" y="421.80" width="31.00" height="1.60" fill="#ffffff" />
<path d="M51.5,431.3 L70,430.8 L100,430.5 L140,430.5 L164.4,430.90000000000003 L164.4,433.7 L140,434.1 L100,434.1 L70,433.8 L51.5,433.3 Z" fill="#f0dcdc" stroke="#e2c0c0" stroke-width="0.8"/>
<rect x="91.00" y="431.50" width="39.00" height="1.60" fill="#ffffff" />
<path d="M52.3,441.0 L60,439.8 L70,440.2 L77.7,441.2 L77.7,443.2 L70,444.2 L60,444.59999999999997 L52.3,443.4 Z" fill="#faf6c8" stroke="#e0d830" stroke-width="0.8"/>
<path d="M47.7,450.2 L60,450.0 L100,449.8 L138,450.4 L138,453.6 L100,454.2 L60,454.0 L47.7,453.8 Z" fill="#f0f0f0" stroke="#b0b0b0" stroke-width="0.8"/>
<rect x="60.00" y="451.20" width="44.00" height="1.60" fill="#ffffff" />
<path d="M47.7,459.5 L60,459.5 L104,459.3 L130,460.0 L157.7,461.40000000000003 L157.7,462.2 L130,463.6 L104,464.3 L60,464.1 L47.7,464.1 Z" fill="#c4d0f4" stroke="#4a6ad8" stroke-width="0.8"/>
<rect x="54.60" y="460.90" width="49.40" height="1.80" fill="#ffffff" />
<path d="M49.2,469.7 L70,469.3 L100,469.3 L113,469.9 L113,473.1 L100,473.7 L70,473.7 L49.2,473.3 Z" fill="#fae2cc" stroke="#f2c49a" stroke-width="0.8"/>
<rect x="60.00" y="470.80" width="44.00" height="1.40" fill="#fdf0e4" />
<line x1="180.50" y1="407.70" x2="189.80" y2="407.70" stroke="#555" stroke-width="0.9" />
<line x1="180.50" y1="409.20" x2="189.80" y2="409.20" stroke="#555" stroke-width="0.9" />
<line x1="180.50" y1="410.70" x2="189.80" y2="410.70" stroke="#555" stroke-width="0.9" />
<line x1="184.90" y1="407.70" x2="184.90" y2="442.40" stroke="#555" stroke-width="0.9" />
<line x1="180.50" y1="442.40" x2="185.00" y2="442.40" stroke="#555" stroke-width="0.9" />
<line x1="187.20" y1="409.20" x2="187.20" y2="462.30" stroke="#555" stroke-width="0.9" />
<line x1="180.50" y1="462.30" x2="187.20" y2="462.30" stroke="#555" stroke-width="0.9" />
<line x1="189.80" y1="410.70" x2="189.80" y2="472.80" stroke="#555" stroke-width="0.9" />
<line x1="180.50" y1="472.80" x2="189.80" y2="472.80" stroke="#555" stroke-width="0.9" />
<text x="181.00" y="441.20" font-size="5" text-anchor="start" fill="#333" font-weight="normal">*</text>
<text x="181.00" y="461.00" font-size="5" text-anchor="start" fill="#333" font-weight="normal">*</text>
<text x="181.00" y="471.00" font-size="5" text-anchor="start" fill="#333" font-weight="normal">*</text>
<text x="205.50" y="381.30" font-size="11.5" text-anchor="start" fill="#000" font-weight="bold">C</text>
<text x="233.70" y="393.90" font-size="6.2" text-anchor="end" fill="#222" font-weight="normal" textLength="18.2" lengthAdjust="spacingAndGlyphs">CAEBV</text>
<text x="233.70" y="404.30" font-size="6.2" text-anchor="end" fill="#222" font-weight="normal" textLength="17.68" lengthAdjust="spacingAndGlyphs">DLBCL</text>
<text x="233.70" y="415.00" font-size="6.2" text-anchor="end" fill="#222" font-weight="normal" textLength="13.52" lengthAdjust="spacingAndGlyphs">ENKL</text>
<text x="233.70" y="425.60" font-size="6.2" text-anchor="end" fill="#222" font-weight="normal" textLength="6.24" lengthAdjust="spacingAndGlyphs">BL</text>
<text x="233.70" y="436.20" font-size="6.2" text-anchor="end" fill="#222" font-weight="normal" textLength="6.24" lengthAdjust="spacingAndGlyphs">HL</text>
<text x="233.70" y="446.80" font-size="6.2" text-anchor="end" fill="#222" font-weight="normal" textLength="25.48" lengthAdjust="spacingAndGlyphs">IM+PTLD</text>
<text x="233.70" y="457.30" font-size="6.2" text-anchor="end" fill="#222" font-weight="normal" textLength="14.56" lengthAdjust="spacingAndGlyphs">Other</text>
<text x="233.70" y="467.90" font-size="6.2" text-anchor="end" fill="#222" font-weight="normal" textLength="24.44" lengthAdjust="spacingAndGlyphs">Epithelial</text>
<text x="233.70" y="478.40" font-size="6.2" text-anchor="end" fill="#222" font-weight="normal" textLength="19.240000000000002" lengthAdjust="spacingAndGlyphs">Healthy</text>
<line x1="238.50" y1="386.50" x2="238.50" y2="483.80" stroke="#222" stroke-width="1.1" />
<line x1="238.50" y1="386.50" x2="271.50" y2="386.50" stroke="#222" stroke-width="1.1" />
<line x1="244.60" y1="384.20" x2="244.60" y2="386.50" stroke="#222" stroke-width="0.8" />
<line x1="251.00" y1="384.20" x2="251.00" y2="386.50" stroke="#222" stroke-width="0.8" />
<line x1="257.80" y1="384.20" x2="257.80" y2="386.50" stroke="#222" stroke-width="0.8" />
<line x1="264.50" y1="384.20" x2="264.50" y2="386.50" stroke="#222" stroke-width="0.8" />
<line x1="271.50" y1="384.20" x2="271.50" y2="386.50" stroke="#222" stroke-width="0.8" />
<line x1="236.30" y1="386.80" x2="238.50" y2="386.80" stroke="#222" stroke-width="0.8" />
<line x1="236.30" y1="397.00" x2="238.50" y2="397.00" stroke="#222" stroke-width="0.8" />
<line x1="236.30" y1="407.70" x2="238.50" y2="407.70" stroke="#222" stroke-width="0.8" />
<line x1="236.30" y1="418.30" x2="238.50" y2="418.30" stroke="#222" stroke-width="0.8" />
<line x1="236.30" y1="428.80" x2="238.50" y2="428.80" stroke="#222" stroke-width="0.8" />
<line x1="236.30" y1="439.60" x2="238.50" y2="439.60" stroke="#222" stroke-width="0.8" />
<line x1="236.30" y1="450.20" x2="238.50" y2="450.20" stroke="#222" stroke-width="0.8" />
<line x1="236.30" y1="460.70" x2="238.50" y2="460.70" stroke="#222" stroke-width="0.8" />
<line x1="236.30" y1="471.20" x2="238.50" y2="471.20" stroke="#222" stroke-width="0.8" />
<line x1="236.30" y1="481.80" x2="238.50" y2="481.80" stroke="#222" stroke-width="0.8" />
<text x="225.80" y="380.90" font-size="6.2" text-anchor="start" fill="#222" font-weight="normal" textLength="8" lengthAdjust="spacingAndGlyphs">(%)</text>
<text x="237.20" y="380.90" font-size="6.2" text-anchor="start" fill="#222" font-weight="normal" textLength="3.07" lengthAdjust="spacingAndGlyphs">0</text>
<text x="248.60" y="380.90" font-size="6.2" text-anchor="start" fill="#222" font-weight="normal" textLength="10.8" lengthAdjust="spacingAndGlyphs">Total</text>
<text x="267.50" y="380.90" font-size="6.2" text-anchor="start" fill="#222" font-weight="normal" textLength="6.7" lengthAdjust="spacingAndGlyphs">50</text>
<rect x="251.30" y="390.30" width="6.15" height="3.60" fill="#bdf0da" stroke="#1fbf80" stroke-width="0.7"/>
<rect x="239.00" y="389.95" width="12.30" height="4.30" fill="#1fbf80" />
<rect x="257.00" y="400.70" width="11.45" height="3.60" fill="#fff" stroke="#ee1c24" stroke-width="0.7"/>
<rect x="239.00" y="400.35" width="18.00" height="4.30" fill="#ee1c24" />
<rect x="239.00" y="411.05" width="23.80" height="4.30" fill="#f7941d" />
<rect x="239.00" y="421.65" width="12.30" height="4.30" fill="#a48bc8" />
<rect x="246.70" y="432.60" width="6.55" height="3.60" fill="#fde0e0" stroke="#f49c9c" stroke-width="0.7"/>
<rect x="239.00" y="432.25" width="7.70" height="4.30" fill="#f49c9c" />
<rect x="240.70" y="443.20" width="3.05" height="3.60" fill="#fff" stroke="#d4d324" stroke-width="0.7"/>
<rect x="239.00" y="442.85" width="1.70" height="4.30" fill="#d4d324" />
<rect x="245.30" y="453.70" width="2.75" height="3.60" fill="#fff" stroke="#6d6e71" stroke-width="0.7"/>
<rect x="239.00" y="453.35" width="6.30" height="4.30" fill="#6d6e71" />
<rect x="239.00" y="463.95" width="2.50" height="4.30" fill="#1a2fbf" />
<rect x="239.00" y="474.45" width="2.50" height="4.30" fill="#f6bd6a" />
<line x1="291.90" y1="386.50" x2="291.90" y2="483.80" stroke="#222" stroke-width="1.1" />
<line x1="291.90" y1="386.50" x2="325.50" y2="386.50" stroke="#222" stroke-width="1.1" />
<line x1="302.90" y1="384.20" x2="302.90" y2="386.50" stroke="#222" stroke-width="0.8" />
<line x1="314.40" y1="384.20" x2="314.40" y2="386.50" stroke="#222" stroke-width="0.8" />
<line x1="325.50" y1="384.20" x2="325.50" y2="386.50" stroke="#222" stroke-width="0.8" />
<line x1="289.70" y1="386.80" x2="291.90" y2="386.80" stroke="#222" stroke-width="0.8" />
<line x1="289.70" y1="397.00" x2="291.90" y2="397.00" stroke="#222" stroke-width="0.8" />
<line x1="289.70" y1="407.70" x2="291.90" y2="407.70" stroke="#222" stroke-width="0.8" />
<line x1="289.70" y1="418.30" x2="291.90" y2="418.30" stroke="#222" stroke-width="0.8" />
<line x1="289.70" y1="428.80" x2="291.90" y2="428.80" stroke="#222" stroke-width="0.8" />
<line x1="289.70" y1="439.60" x2="291.90" y2="439.60" stroke="#222" stroke-width="0.8" />
<line x1="289.70" y1="450.20" x2="291.90" y2="450.20" stroke="#222" stroke-width="0.8" />
<line x1="289.70" y1="460.70" x2="291.90" y2="460.70" stroke="#222" stroke-width="0.8" />
<line x1="289.70" y1="471.20" x2="291.90" y2="471.20" stroke="#222" stroke-width="0.8" />
<line x1="289.70" y1="481.80" x2="291.90" y2="481.80" stroke="#222" stroke-width="0.8" />
<text x="289.60" y="380.90" font-size="6.2" text-anchor="start" fill="#222" font-weight="normal" textLength="3.07" lengthAdjust="spacingAndGlyphs">0</text>
<text x="296.20" y="380.90" font-size="6.2" text-anchor="start" fill="#222" font-weight="normal" textLength="23.5" lengthAdjust="spacingAndGlyphs">BARTmiR</text>
<text x="322.00" y="380.90" font-size="6.2" text-anchor="start" fill="#222" font-weight="normal" textLength="6.3" lengthAdjust="spacingAndGlyphs">30</text>
<rect x="292.40" y="390.00" width="16.60" height="4.20" fill="#f04af2" />
<rect x="292.40" y="400.40" width="28.10" height="4.20" fill="#f04af2" />
<rect x="292.40" y="411.10" width="26.20" height="4.20" fill="#f04af2" />
<rect x="292.40" y="421.70" width="5.00" height="4.20" fill="#f04af2" />
<rect x="292.40" y="432.30" width="4.50" height="4.20" fill="#f04af2" />
<rect x="292.40" y="442.90" width="1.20" height="4.20" fill="#f04af2" />
<rect x="292.40" y="453.40" width="9.50" height="4.20" fill="#f04af2" />
<rect x="292.40" y="464.00" width="0.90" height="4.20" fill="#f04af2" />
<line x1="346.40" y1="386.50" x2="346.40" y2="483.80" stroke="#222" stroke-width="1.1" />
<line x1="346.40" y1="386.50" x2="379.30" y2="386.50" stroke="#222" stroke-width="1.1" />
<line x1="357.40" y1="384.20" x2="357.40" y2="386.50" stroke="#222" stroke-width="0.8" />
<line x1="368.40" y1="384.20" x2="368.40" y2="386.50" stroke="#222" stroke-width="0.8" />
<line x1="379.30" y1="384.20" x2="379.30" y2="386.50" stroke="#222" stroke-width="0.8" />
<line x1="344.20" y1="386.80" x2="346.40" y2="386.80" stroke="#222" stroke-width="0.8" />
<line x1="344.20" y1="397.00" x2="346.40" y2="397.00" stroke="#222" stroke-width="0.8" />
<line x1="344.20" y1="407.70" x2="346.40" y2="407.70" stroke="#222" stroke-width="0.8" />
<line x1="344.20" y1="418.30" x2="346.40" y2="418.30" stroke="#222" stroke-width="0.8" />
<line x1="344.20" y1="428.80" x2="346.40" y2="428.80" stroke="#222" stroke-width="0.8" />
<line x1="344.20" y1="439.60" x2="346.40" y2="439.60" stroke="#222" stroke-width="0.8" />
<line x1="344.20" y1="450.20" x2="346.40" y2="450.20" stroke="#222" stroke-width="0.8" />
<line x1="344.20" y1="460.70" x2="346.40" y2="460.70" stroke="#222" stroke-width="0.8" />
<line x1="344.20" y1="471.20" x2="346.40" y2="471.20" stroke="#222" stroke-width="0.8" />
<line x1="344.20" y1="481.80" x2="346.40" y2="481.80" stroke="#222" stroke-width="0.8" />
<text x="344.30" y="380.90" font-size="6.2" text-anchor="start" fill="#222" font-weight="normal" textLength="3.07" lengthAdjust="spacingAndGlyphs">0</text>
<text x="350.50" y="380.90" font-size="6.2" text-anchor="start" fill="#222" font-weight="normal" textLength="23" lengthAdjust="spacingAndGlyphs">Essential</text>
<text x="376.00" y="380.90" font-size="6.2" text-anchor="start" fill="#222" font-weight="normal" textLength="6.3" lengthAdjust="spacingAndGlyphs">30</text>
<rect x="346.90" y="390.00" width="14.90" height="4.20" fill="#f47e5b" />
<rect x="346.90" y="400.40" width="27.70" height="4.20" fill="#f47e5b" />
<rect x="346.90" y="411.10" width="5.70" height="4.20" fill="#f47e5b" />
<rect x="346.90" y="421.70" width="4.10" height="4.20" fill="#f47e5b" />
<rect x="346.90" y="432.30" width="18.50" height="4.20" fill="#f47e5b" />
<rect x="346.90" y="453.40" width="1.40" height="4.20" fill="#f47e5b" />
<rect x="346.90" y="464.00" width="0.30" height="4.20" fill="#f47e5b" />
<line x1="400.00" y1="386.50" x2="400.00" y2="483.80" stroke="#222" stroke-width="1.1" />
<line x1="400.00" y1="386.50" x2="433.00" y2="386.50" stroke="#222" stroke-width="1.1" />
<line x1="411.00" y1="384.20" x2="411.00" y2="386.50" stroke="#222" stroke-width="0.8" />
<line x1="422.00" y1="384.20" x2="422.00" y2="386.50" stroke="#222" stroke-width="0.8" />
<line x1="433.00" y1="384.20" x2="433.00" y2="386.50" stroke="#222" stroke-width="0.8" />
<line x1="397.80" y1="386.80" x2="400.00" y2="386.80" stroke="#222" stroke-width="0.8" />
<line x1="397.80" y1="397.00" x2="400.00" y2="397.00" stroke="#222" stroke-width="0.8" />
<line x1="397.80" y1="407.70" x2="400.00" y2="407.70" stroke="#222" stroke-width="0.8" />
<line x1="397.80" y1="418.30" x2="400.00" y2="418.30" stroke="#222" stroke-width="0.8" />
<line x1="397.80" y1="428.80" x2="400.00" y2="428.80" stroke="#222" stroke-width="0.8" />
<line x1="397.80" y1="439.60" x2="400.00" y2="439.60" stroke="#222" stroke-width="0.8" />
<line x1="397.80" y1="450.20" x2="400.00" y2="450.20" stroke="#222" stroke-width="0.8" />
<line x1="397.80" y1="460.70" x2="400.00" y2="460.70" stroke="#222" stroke-width="0.8" />
<line x1="397.80" y1="471.20" x2="400.00" y2="471.20" stroke="#222" stroke-width="0.8" />
<line x1="397.80" y1="481.80" x2="400.00" y2="481.80" stroke="#222" stroke-width="0.8" />
<text x="397.80" y="380.90" font-size="6.2" text-anchor="start" fill="#222" font-weight="normal" textLength="3.07" lengthAdjust="spacingAndGlyphs">0</text>
<text x="405.00" y="380.90" font-size="6.2" text-anchor="start" fill="#222" font-weight="normal" textLength="16.5" lengthAdjust="spacingAndGlyphs">EBNAs</text>
<text x="429.80" y="380.90" font-size="6.2" text-anchor="start" fill="#222" font-weight="normal" textLength="6.3" lengthAdjust="spacingAndGlyphs">30</text>
<rect x="400.50" y="390.00" width="3.70" height="4.20" fill="#2ab6e0" />
<rect x="400.50" y="400.40" width="17.20" height="4.20" fill="#2ab6e0" />
<rect x="400.50" y="421.70" width="9.90" height="4.20" fill="#2ab6e0" />
<rect x="400.50" y="432.30" width="11.70" height="4.20" fill="#2ab6e0" />
<rect x="400.50" y="442.90" width="3.70" height="4.20" fill="#2ab6e0" />
<rect x="400.50" y="453.40" width="2.50" height="4.20" fill="#2ab6e0" />
<rect x="400.50" y="464.00" width="0.50" height="4.20" fill="#2ab6e0" />
<rect x="400.50" y="474.50" width="0.50" height="4.20" fill="#2ab6e0" />
<line x1="455.00" y1="386.50" x2="455.00" y2="483.80" stroke="#222" stroke-width="1.1" />
<line x1="455.00" y1="386.50" x2="488.00" y2="386.50" stroke="#222" stroke-width="1.1" />
<line x1="466.00" y1="384.20" x2="466.00" y2="386.50" stroke="#222" stroke-width="0.8" />
<line x1="477.00" y1="384.20" x2="477.00" y2="386.50" stroke="#222" stroke-width="0.8" />
<line x1="488.00" y1="384.20" x2="488.00" y2="386.50" stroke="#222" stroke-width="0.8" />
<line x1="452.80" y1="386.80" x2="455.00" y2="386.80" stroke="#222" stroke-width="0.8" />
<line x1="452.80" y1="397.00" x2="455.00" y2="397.00" stroke="#222" stroke-width="0.8" />
<line x1="452.80" y1="407.70" x2="455.00" y2="407.70" stroke="#222" stroke-width="0.8" />
<line x1="452.80" y1="418.30" x2="455.00" y2="418.30" stroke="#222" stroke-width="0.8" />
<line x1="452.80" y1="428.80" x2="455.00" y2="428.80" stroke="#222" stroke-width="0.8" />
<line x1="452.80" y1="439.60" x2="455.00" y2="439.60" stroke="#222" stroke-width="0.8" />
<line x1="452.80" y1="450.20" x2="455.00" y2="450.20" stroke="#222" stroke-width="0.8" />
<line x1="452.80" y1="460.70" x2="455.00" y2="460.70" stroke="#222" stroke-width="0.8" />
<line x1="452.80" y1="471.20" x2="455.00" y2="471.20" stroke="#222" stroke-width="0.8" />
<line x1="452.80" y1="481.80" x2="455.00" y2="481.80" stroke="#222" stroke-width="0.8" />
<text x="452.80" y="380.90" font-size="6.2" text-anchor="start" fill="#222" font-weight="normal" textLength="3.07" lengthAdjust="spacingAndGlyphs">0</text>
<text x="460.00" y="380.90" font-size="6.2" text-anchor="start" fill="#222" font-weight="normal" textLength="13" lengthAdjust="spacingAndGlyphs">LMPs</text>
<text x="484.80" y="380.90" font-size="6.2" text-anchor="start" fill="#222" font-weight="normal" textLength="6.3" lengthAdjust="spacingAndGlyphs">30</text>
<rect x="455.50" y="400.40" width="13.30" height="4.20" fill="#2ab6e0" />
<rect x="455.50" y="411.10" width="13.30" height="4.20" fill="#2ab6e0" />
<rect x="455.50" y="421.70" width="9.70" height="4.20" fill="#2ab6e0" />
<rect x="455.50" y="432.30" width="1.50" height="4.20" fill="#2ab6e0" />
<rect x="455.50" y="442.90" width="1.50" height="4.20" fill="#2ab6e0" />
<rect x="455.50" y="453.40" width="0.50" height="4.20" fill="#2ab6e0" />
<rect x="455.50" y="464.00" width="0.50" height="4.20" fill="#2ab6e0" />
<rect x="455.50" y="474.50" width="1.50" height="4.20" fill="#2ab6e0" />
<text x="7.30" y="502.80" font-size="11.5" text-anchor="start" fill="#000" font-weight="bold">D</text>
<text x="30.80" y="507.20" font-size="6.1" text-anchor="start" fill="#222" font-weight="normal" textLength="128.5" lengthAdjust="spacingAndGlyphs">BART microRNA cluster 1 (139069-140116, 1048 nt)</text>
<rect x="19.00" y="510.00" width="2.80" height="94.00" fill="#d6d6d6" />
<rect x="24.60" y="510.00" width="2.80" height="94.00" fill="#d6d6d6" />
<rect x="40.60" y="510.00" width="2.80" height="94.00" fill="#d6d6d6" />
<rect x="45.90" y="510.00" width="2.80" height="94.00" fill="#d6d6d6" />
<rect x="58.60" y="510.00" width="2.80" height="94.00" fill="#d6d6d6" />
<rect x="63.60" y="510.00" width="2.80" height="94.00" fill="#d6d6d6" />
<rect x="88.10" y="510.00" width="2.80" height="94.00" fill="#d6d6d6" />
<rect x="106.90" y="510.00" width="2.80" height="94.00" fill="#d6d6d6" />
<rect x="112.10" y="510.00" width="2.80" height="94.00" fill="#d6d6d6" />
<rect x="124.40" y="510.00" width="2.80" height="94.00" fill="#d6d6d6" />
<rect x="142.40" y="510.00" width="2.80" height="94.00" fill="#d6d6d6" />
<rect x="147.60" y="510.00" width="2.80" height="94.00" fill="#d6d6d6" />
<rect x="158.80" y="510.00" width="2.80" height="94.00" fill="#d6d6d6" />
<rect x="164.10" y="510.00" width="2.80" height="94.00" fill="#d6d6d6" />
<rect x="17.00" y="509.60" width="153.40" height="1.60" fill="#a8f0d4" />
<rect x="17.00" y="511.20" width="153.40" height="15.80" fill="#90ecca" />
<rect x="17.00" y="511.20" width="153.40" height="2.32" fill="#22c882" />
<rect x="17.00" y="515.20" width="153.40" height="2.32" fill="#22c882" />
<rect x="17.00" y="519.20" width="153.40" height="2.32" fill="#22c882" />
<rect x="17.00" y="523.20" width="153.40" height="2.32" fill="#22c882" />
<rect x="112.50" y="527.00" width="57.90" height="2.60" fill="#22c882" />
<rect x="134.00" y="529.60" width="36.40" height="2.40" fill="#22c882" />
<rect x="155.40" y="532.00" width="15.00" height="2.20" fill="#22c882" />
<rect x="155.40" y="534.20" width="15.00" height="2.60" fill="#90ecca" />
<rect x="17.00" y="538.50" width="38.00" height="1.50" fill="#f9b8b8" />
<rect x="17.00" y="540.00" width="153.40" height="19.20" fill="#fbd2d2" />
<rect x="17.00" y="540.00" width="153.40" height="0.96" fill="#f8b0b0" />
<rect x="17.00" y="541.60" width="153.40" height="0.96" fill="#f8b0b0" />
<rect x="17.00" y="543.20" width="153.40" height="0.96" fill="#f8b0b0" />
<rect x="17.00" y="544.80" width="153.40" height="0.96" fill="#f8b0b0" />
<rect x="17.00" y="546.40" width="153.40" height="0.96" fill="#f8b0b0" />
<rect x="17.00" y="548.00" width="153.40" height="0.96" fill="#f8b0b0" />
<rect x="17.00" y="549.60" width="153.40" height="0.96" fill="#f8b0b0" />
<rect x="17.00" y="551.20" width="153.40" height="0.96" fill="#f8b0b0" />
<rect x="17.00" y="552.80" width="153.40" height="0.96" fill="#f8b0b0" />
<rect x="17.00" y="554.40" width="153.40" height="0.96" fill="#f8b0b0" />
<rect x="17.00" y="556.00" width="153.40" height="0.96" fill="#f8b0b0" />
<rect x="17.00" y="557.60" width="153.40" height="0.96" fill="#f8b0b0" />
<rect x="17.00" y="543.00" width="153.40" height="3.20" fill="#ee1c24" />
<rect x="17.00" y="550.80" width="153.40" height="3.00" fill="#ee1c24" />
<rect x="153.00" y="559.40" width="17.40" height="1.80" fill="#ee1c24" />
<rect x="17.00" y="561.50" width="153.40" height="10.80" fill="#fbc468" />
<rect x="17.00" y="561.50" width="153.40" height="1.04" fill="#f9a01a" />
<rect x="17.00" y="563.10" width="153.40" height="1.04" fill="#f9a01a" />
<rect x="17.00" y="564.70" width="153.40" height="1.04" fill="#f9a01a" />
<rect x="17.00" y="566.30" width="153.40" height="1.04" fill="#f9a01a" />
<rect x="17.00" y="567.90" width="153.40" height="1.04" fill="#f9a01a" />
<rect x="17.00" y="569.50" width="153.40" height="1.04" fill="#f9a01a" />
<rect x="17.00" y="571.10" width="153.40" height="1.04" fill="#f9a01a" />
<rect x="26.40" y="572.30" width="144.00" height="2.90" fill="#fbc468" />
<rect x="26.40" y="572.30" width="144.00" height="1.04" fill="#f9a01a" />
<rect x="26.40" y="573.90" width="144.00" height="1.04" fill="#f9a01a" />
<rect x="76.60" y="575.20" width="93.80" height="2.40" fill="#fbc468" />
<rect x="76.60" y="575.20" width="93.80" height="1.04" fill="#f9a01a" />
<rect x="76.60" y="576.80" width="93.80" height="0.80" fill="#f9a01a" />
<rect x="129.80" y="577.60" width="40.60" height="2.40" fill="#f7941d" />
<rect x="17.00" y="580.80" width="153.40" height="2.20" fill="#e8dcf2" />
<rect x="17.00" y="583.20" width="69.00" height="2.20" fill="#a48bc8" />
<rect x="112.00" y="586.40" width="58.40" height="2.00" fill="#a48bc8" />
<rect x="17.00" y="588.60" width="153.40" height="6.40" fill="#fde4e4" />
<rect x="17.00" y="588.60" width="153.40" height="0.96" fill="#f8c8c8" />
<rect x="17.00" y="590.20" width="153.40" height="0.96" fill="#f8c8c8" />
<rect x="17.00" y="591.80" width="153.40" height="0.96" fill="#f8c8c8" />
<rect x="17.00" y="593.40" width="153.40" height="0.96" fill="#f8c8c8" />
<rect x="60.00" y="596.20" width="110.40" height="2.80" fill="#777777" />
<rect x="142.00" y="599.00" width="24.00" height="2.40" fill="#62789a" />
<rect x="17.00" y="602.80" width="153.40" height="1.80" fill="#a8c8f0" stroke="#7098d8" stroke-width="0.6"/>
<rect x="18.70" y="606.60" width="3.40" height="3.40" fill="#f080f0" stroke="#e030e0" stroke-width="0.8"/>
<rect x="24.30" y="606.60" width="3.40" height="3.40" fill="#f080f0" stroke="#e030e0" stroke-width="0.8"/>
<rect x="40.30" y="606.60" width="3.40" height="3.40" fill="#f080f0" stroke="#e030e0" stroke-width="0.8"/>
<rect x="45.60" y="606.60" width="3.40" height="3.40" fill="#f080f0" stroke="#e030e0" stroke-width="0.8"/>
<rect x="58.30" y="606.60" width="3.40" height="3.40" fill="#f080f0" stroke="#e030e0" stroke-width="0.8"/>
<rect x="63.30" y="606.60" width="3.40" height="3.40" fill="#f080f0" stroke="#e030e0" stroke-width="0.8"/>
<rect x="87.80" y="606.60" width="3.40" height="3.40" fill="#f080f0" stroke="#e030e0" stroke-width="0.8"/>
<rect x="106.60" y="606.60" width="3.40" height="3.40" fill="#f080f0" stroke="#e030e0" stroke-width="0.8"/>
<rect x="111.80" y="606.60" width="3.40" height="3.40" fill="#f080f0" stroke="#e030e0" stroke-width="0.8"/>
<rect x="124.10" y="606.60" width="3.40" height="3.40" fill="#f080f0" stroke="#e030e0" stroke-width="0.8"/>
<rect x="142.10" y="606.60" width="3.40" height="3.40" fill="#f080f0" stroke="#e030e0" stroke-width="0.8"/>
<rect x="147.30" y="606.60" width="3.40" height="3.40" fill="#f080f0" stroke="#e030e0" stroke-width="0.8"/>
<rect x="158.50" y="606.60" width="3.40" height="3.40" fill="#f080f0" stroke="#e030e0" stroke-width="0.8"/>
<rect x="163.80" y="606.60" width="3.40" height="3.40" fill="#f080f0" stroke="#e030e0" stroke-width="0.8"/>
<text x="23.20" y="617.20" font-size="6.5" text-anchor="middle" fill="#222" font-weight="normal" textLength="3.22" lengthAdjust="spacingAndGlyphs">3</text>
<text x="44.60" y="617.20" font-size="6.5" text-anchor="middle" fill="#222" font-weight="normal" textLength="3.22" lengthAdjust="spacingAndGlyphs">4</text>
<text x="62.50" y="617.20" font-size="6.5" text-anchor="middle" fill="#222" font-weight="normal" textLength="3.22" lengthAdjust="spacingAndGlyphs">1</text>
<text x="89.50" y="617.20" font-size="6.5" text-anchor="middle" fill="#222" font-weight="normal" textLength="6.43" lengthAdjust="spacingAndGlyphs">15</text>
<text x="110.90" y="617.20" font-size="6.5" text-anchor="middle" fill="#222" font-weight="normal" textLength="3.22" lengthAdjust="spacingAndGlyphs">5</text>
<text x="125.80" y="617.20" font-size="6.5" text-anchor="middle" fill="#222" font-weight="normal" textLength="6.43" lengthAdjust="spacingAndGlyphs">16</text>
<text x="146.40" y="617.20" font-size="6.5" text-anchor="middle" fill="#222" font-weight="normal" textLength="6.43" lengthAdjust="spacingAndGlyphs">17</text>
<text x="162.80" y="617.20" font-size="6.5" text-anchor="middle" fill="#222" font-weight="normal" textLength="3.22" lengthAdjust="spacingAndGlyphs">6</text>
<text x="186.40" y="502.80" font-size="11.5" text-anchor="start" fill="#000" font-weight="bold">E</text>
<text x="204.60" y="507.20" font-size="6.1" text-anchor="start" fill="#222" font-weight="normal" textLength="129.8" lengthAdjust="spacingAndGlyphs">BART microRNA cluster 2 (145486-148838, 3353 nt)</text>
<rect x="194.50" y="510.00" width="1.00" height="104.00" fill="#f4d0d8" />
<rect x="214.90" y="510.00" width="1.20" height="104.00" fill="#e2e2e2" />
<rect x="235.20" y="510.00" width="1.20" height="104.00" fill="#e2e2e2" />
<rect x="249.80" y="510.00" width="1.20" height="104.00" fill="#e2e2e2" />
<rect x="258.20" y="510.00" width="1.20" height="104.00" fill="#e2e2e2" />
<rect x="267.00" y="510.00" width="1.20" height="104.00" fill="#e2e2e2" />
<rect x="275.00" y="510.00" width="1.20" height="104.00" fill="#e2e2e2" />
<rect x="284.40" y="510.00" width="1.20" height="104.00" fill="#e2e2e2" />
<rect x="300.20" y="510.00" width="1.20" height="104.00" fill="#e2e2e2" />
<rect x="312.00" y="510.00" width="1.20" height="104.00" fill="#e2e2e2" />
<rect x="318.90" y="510.00" width="1.20" height="104.00" fill="#e2e2e2" />
<rect x="327.90" y="510.00" width="1.20" height="104.00" fill="#e2e2e2" />
<rect x="337.30" y="510.00" width="1.20" height="104.00" fill="#e2e2e2" />
<rect x="192.50" y="509.80" width="147.50" height="1.40" fill="#8ee9cb" />
<rect x="192.50" y="511.20" width="147.50" height="2.80" fill="#1cc47f" />
<rect x="192.50" y="514.00" width="147.50" height="1.30" fill="#8ee9cb" />
<rect x="192.50" y="515.30" width="147.50" height="2.70" fill="#1cc47f" />
<rect x="192.50" y="518.00" width="147.50" height="1.00" fill="#8ee9cb" />
<rect x="192.50" y="519.00" width="71.30" height="2.20" fill="#1cc47f" />
<rect x="263.80" y="519.00" width="76.20" height="2.20" fill="#8ee9cb" />
<rect x="192.50" y="521.00" width="147.50" height="4.20" fill="#8ee9cb" />
<rect x="192.50" y="523.00" width="147.50" height="0.40" fill="#c8f4e4" />
<rect x="192.30" y="525.70" width="12.30" height="1.80" fill="#1cc47f" />
<rect x="194.60" y="527.80" width="2.40" height="1.40" fill="#128a50" />
<rect x="216.90" y="531.40" width="16.10" height="1.50" fill="#1cc47f" />
<rect x="223.80" y="532.90" width="116.20" height="2.30" fill="#1cc47f" />
<rect x="227.70" y="535.20" width="112.30" height="2.30" fill="#2fcf8c" />
<rect x="231.50" y="537.50" width="108.50" height="2.30" fill="#1cc47f" />
<rect x="232.30" y="539.80" width="107.70" height="1.60" fill="#5fdca8" />
<rect x="243.80" y="541.40" width="96.20" height="2.30" fill="#8ee9cb" />
<rect x="257.00" y="543.70" width="83.00" height="2.30" fill="#1cc47f" />
<rect x="282.30" y="546.00" width="57.70" height="2.30" fill="#1cc47f" />
<rect x="288.00" y="548.30" width="50.50" height="1.70" fill="#2fcf8c" />
<rect x="192.50" y="550.40" width="147.50" height="1.50" fill="#f8b8b8" />
<rect x="192.50" y="551.90" width="147.50" height="2.70" fill="#ee1c24" />
<rect x="192.50" y="554.60" width="147.50" height="1.80" fill="#f7a8a8" />
<rect x="192.50" y="556.40" width="100.50" height="2.00" fill="#f49090" />
<rect x="293.00" y="556.40" width="47.00" height="2.00" fill="#fcd8d8" />
<rect x="192.50" y="558.40" width="146.50" height="2.10" fill="#ee1c24" />
<rect x="192.50" y="560.50" width="147.50" height="1.80" fill="#f7a8a8" />
<rect x="192.50" y="562.30" width="99.00" height="3.00" fill="#ee1c24" />
<rect x="291.50" y="562.60" width="48.50" height="1.60" fill="#f8b0b0" />
<rect x="192.50" y="565.30" width="121.50" height="2.10" fill="#f7941d" />
<rect x="192.50" y="567.40" width="147.50" height="12.80" fill="#fbc468" />
<rect x="192.50" y="567.40" width="147.50" height="1.04" fill="#f9a01a" />
<rect x="192.50" y="569.00" width="147.50" height="1.04" fill="#f9a01a" />
<rect x="192.50" y="570.60" width="147.50" height="1.04" fill="#f9a01a" />
<rect x="192.50" y="572.20" width="147.50" height="1.04" fill="#f9a01a" />
<rect x="192.50" y="573.80" width="147.50" height="1.04" fill="#f9a01a" />
<rect x="192.50" y="575.40" width="147.50" height="1.04" fill="#f9a01a" />
<rect x="192.50" y="577.00" width="147.50" height="1.04" fill="#f9a01a" />
<rect x="192.50" y="578.60" width="147.50" height="1.04" fill="#f9a01a" />
<rect x="192.50" y="580.20" width="93.00" height="1.50" fill="#f7941d" />
<rect x="318.40" y="582.30" width="20.60" height="2.10" fill="#f7941d" />
<rect x="192.50" y="586.60" width="147.50" height="2.60" fill="#a48bc8" />
<rect x="192.50" y="590.20" width="147.50" height="7.20" fill="#fde4e4" />
<rect x="192.50" y="590.20" width="147.50" height="0.96" fill="#f8c8c8" />
<rect x="192.50" y="591.80" width="147.50" height="0.96" fill="#f8c8c8" />
<rect x="192.50" y="593.40" width="147.50" height="0.96" fill="#f8c8c8" />
<rect x="192.50" y="595.00" width="147.50" height="0.96" fill="#f8c8c8" />
<rect x="192.50" y="596.60" width="147.50" height="0.80" fill="#f8c8c8" />
<rect x="305.00" y="591.40" width="3.50" height="1.30" fill="#a48bc8" />
<rect x="229.60" y="598.20" width="8.40" height="1.90" fill="#e6d21e" />
<rect x="192.50" y="603.40" width="147.50" height="2.00" fill="#7a7a7a" />
<rect x="202.50" y="605.60" width="2.50" height="1.40" fill="#333" />
<rect x="220.00" y="609.00" width="1.80" height="1.40" fill="#333" />
<rect x="270.00" y="611.00" width="10.00" height="1.20" fill="#c8c8c8" />
<rect x="192.50" y="613.40" width="147.50" height="1.80" fill="#a8ccf4" stroke="#80a8e0" stroke-width="0.6"/>
<rect x="192.80" y="616.30" width="1.80" height="1.60" fill="#1c3fbf" />
<rect x="198.80" y="619.00" width="50.80" height="1.90" fill="#1c3fbf" />
<rect x="193.50" y="621.80" width="3.00" height="3.20" fill="#f8c0f8" stroke="#e870e8" stroke-width="0.7"/>
<rect x="215.00" y="621.80" width="1.00" height="3.40" fill="#888" />
<rect x="234.30" y="621.80" width="3.00" height="3.20" fill="#f8c0f8" stroke="#e870e8" stroke-width="0.7"/>
<rect x="248.90" y="621.80" width="3.00" height="3.20" fill="#f8c0f8" stroke="#e870e8" stroke-width="0.7"/>
<rect x="257.30" y="621.80" width="3.00" height="3.20" fill="#f8c0f8" stroke="#e870e8" stroke-width="0.7"/>
<rect x="266.10" y="621.80" width="3.00" height="3.20" fill="#f8c0f8" stroke="#e870e8" stroke-width="0.7"/>
<rect x="274.10" y="621.80" width="3.00" height="3.20" fill="#f8c0f8" stroke="#e870e8" stroke-width="0.7"/>
<rect x="283.50" y="621.80" width="3.00" height="3.20" fill="#f8c0f8" stroke="#e870e8" stroke-width="0.7"/>
<rect x="299.30" y="621.80" width="3.00" height="3.20" fill="#f8c0f8" stroke="#e870e8" stroke-width="0.7"/>
<rect x="311.10" y="621.80" width="3.00" height="3.20" fill="#f8c0f8" stroke="#e870e8" stroke-width="0.7"/>
<rect x="318.00" y="621.80" width="3.00" height="3.20" fill="#f8c0f8" stroke="#e870e8" stroke-width="0.7"/>
<rect x="327.00" y="621.80" width="3.00" height="3.20" fill="#f8c0f8" stroke="#e870e8" stroke-width="0.7"/>
<rect x="336.40" y="621.80" width="3.00" height="3.20" fill="#f8c0f8" stroke="#e870e8" stroke-width="0.7"/>
<text x="193.50" y="632.20" font-size="6.5" text-anchor="middle" fill="#222" font-weight="normal" textLength="6.43" lengthAdjust="spacingAndGlyphs">21</text>
<text x="215.00" y="632.20" font-size="6.5" text-anchor="middle" fill="#222" font-weight="normal" textLength="6.43" lengthAdjust="spacingAndGlyphs">18</text>
<text x="235.80" y="632.20" font-size="6.5" text-anchor="middle" fill="#222" font-weight="normal" textLength="3.22" lengthAdjust="spacingAndGlyphs">7</text>
<text x="250.30" y="632.20" font-size="6.5" text-anchor="middle" fill="#222" font-weight="normal" textLength="3.22" lengthAdjust="spacingAndGlyphs">8</text>
<text x="259.00" y="632.20" font-size="6.5" text-anchor="middle" fill="#222" font-weight="normal" textLength="3.22" lengthAdjust="spacingAndGlyphs">9</text>
<text x="267.60" y="632.20" font-size="6.5" text-anchor="middle" fill="#222" font-weight="normal" textLength="6.43" lengthAdjust="spacingAndGlyphs">22</text>
<text x="275.60" y="632.20" font-size="6.5" text-anchor="middle" fill="#222" font-weight="normal" textLength="6.43" lengthAdjust="spacingAndGlyphs">10</text>
<text x="285.00" y="632.20" font-size="6.5" text-anchor="middle" fill="#222" font-weight="normal" textLength="6.0" lengthAdjust="spacingAndGlyphs">11</text>
<text x="300.80" y="632.20" font-size="6.5" text-anchor="middle" fill="#222" font-weight="normal" textLength="6.43" lengthAdjust="spacingAndGlyphs">12</text>
<text x="312.60" y="632.20" font-size="6.5" text-anchor="middle" fill="#222" font-weight="normal" textLength="6.43" lengthAdjust="spacingAndGlyphs">19</text>
<text x="319.50" y="632.20" font-size="6.5" text-anchor="middle" fill="#222" font-weight="normal" textLength="6.43" lengthAdjust="spacingAndGlyphs">20</text>
<text x="328.50" y="632.20" font-size="6.5" text-anchor="middle" fill="#222" font-weight="normal" textLength="6.43" lengthAdjust="spacingAndGlyphs">13</text>
<text x="337.90" y="632.20" font-size="6.5" text-anchor="middle" fill="#222" font-weight="normal" textLength="6.43" lengthAdjust="spacingAndGlyphs">14</text>
<text x="353.00" y="502.80" font-size="11.5" text-anchor="start" fill="#000" font-weight="bold">F</text>
<text x="384.30" y="507.20" font-size="6.1" text-anchor="start" fill="#222" font-weight="normal" textLength="101" lengthAdjust="spacingAndGlyphs"><tspan font-style="italic">EBNA3A/3B/3C</tspan> (79001-90000, 11000 nt)</text>
<rect x="373.00" y="510.20" width="40.80" height="71.60" fill="#d2d2d2" />
<rect x="416.30" y="510.20" width="40.70" height="66.00" fill="#d2d2d2" />
<rect x="459.50" y="510.20" width="4.50" height="66.00" fill="#d2d2d2" />
<rect x="465.70" y="510.20" width="36.30" height="66.00" fill="#d2d2d2" />
<rect x="377.50" y="510.20" width="1.50" height="71.60" fill="#fff" />
<rect x="421.40" y="510.20" width="1.40" height="71.60" fill="#fff" />
<rect x="359.90" y="511.20" width="153.20" height="1.60" fill="#7fe3c2" />
<rect x="359.90" y="512.80" width="84.10" height="6.10" fill="#3fcf90" />
<rect x="359.90" y="512.80" width="84.10" height="1.12" fill="#1fbf80" />
<rect x="359.90" y="514.40" width="84.10" height="1.12" fill="#1fbf80" />
<rect x="359.90" y="516.00" width="84.10" height="1.12" fill="#1fbf80" />
<rect x="359.90" y="517.60" width="84.10" height="1.12" fill="#1fbf80" />
<rect x="438.60" y="518.60" width="7.00" height="2.20" fill="#1fbf80" />
<rect x="359.90" y="521.30" width="153.20" height="3.30" fill="#f9c0c0" />
<rect x="359.90" y="524.80" width="56.40" height="3.20" fill="#f9c0c0" />
<rect x="359.90" y="524.80" width="56.40" height="0.96" fill="#f48c8c" />
<rect x="359.90" y="526.40" width="56.40" height="0.96" fill="#f48c8c" />
<rect x="416.30" y="524.80" width="27.70" height="3.00" fill="#fcd8d8" />
<rect x="422.00" y="529.80" width="22.00" height="2.30" fill="#ee1c24" />
<rect x="450.50" y="532.80" width="4.10" height="2.00" fill="#d01830" />
<rect x="359.90" y="535.20" width="153.20" height="2.20" fill="#e6dcf0" />
<rect x="376.00" y="538.50" width="10.90" height="1.60" fill="#a08ac8" />
<rect x="468.50" y="541.00" width="42.50" height="2.00" fill="#a48bc8" />
<rect x="359.90" y="543.40" width="153.20" height="7.40" fill="#fde2e2" />
<rect x="359.90" y="543.40" width="153.20" height="0.96" fill="#f8c4c4" />
<rect x="359.90" y="545.00" width="153.20" height="0.96" fill="#f8c4c4" />
<rect x="359.90" y="546.60" width="153.20" height="0.96" fill="#f8c4c4" />
<rect x="359.90" y="548.20" width="153.20" height="0.96" fill="#f8c4c4" />
<rect x="359.90" y="549.80" width="153.20" height="0.96" fill="#f8c4c4" />
<rect x="417.00" y="552.40" width="14.50" height="1.60" fill="#f8a8a8" />
<rect x="432.60" y="557.00" width="3.40" height="1.60" fill="#e8d040" />
<rect x="397.80" y="562.40" width="5.90" height="1.60" fill="#6a5a9a" />
<rect x="399.00" y="567.40" width="6.60" height="1.60" fill="#f0c040" />
<rect x="417.00" y="570.40" width="49.00" height="2.10" fill="#f6a64a" />
<rect x="373.00" y="576.90" width="40.80" height="4.90" fill="#1fb9df" rx="1"/>
<rect x="378.00" y="576.90" width="1.20" height="4.90" fill="#fff" />
<rect x="416.30" y="576.90" width="40.70" height="4.90" fill="#1fb9df" />
<rect x="421.20" y="576.90" width="1.30" height="4.90" fill="#fff" />
<rect x="457.00" y="578.20" width="49.90" height="2.20" fill="#1fb9df" />
<rect x="459.20" y="583.80" width="4.90" height="3.70" fill="#1fb9df" />
<rect x="465.20" y="583.80" width="36.80" height="3.70" fill="#1fb9df" />
<rect x="502.00" y="584.80" width="5.00" height="1.80" fill="#1fb9df" />
<text x="383.60" y="595.50" font-size="6.5" text-anchor="start" fill="#222" font-weight="normal" font-style="italic" textLength="21.2" lengthAdjust="spacingAndGlyphs">EBNA3A</text>
<text x="427.00" y="595.50" font-size="6.5" text-anchor="start" fill="#222" font-weight="normal" font-style="italic" textLength="21" lengthAdjust="spacingAndGlyphs">EBNA3B</text>
<text x="470.60" y="595.50" font-size="6.5" text-anchor="start" fill="#222" font-weight="normal" font-style="italic" textLength="21.3" lengthAdjust="spacingAndGlyphs">EBNA3C</text>
<text x="7.30" y="652.60" font-size="11.5" text-anchor="start" fill="#000" font-weight="bold">G</text>
<text x="29.40" y="656.20" font-size="6.1" text-anchor="start" fill="#222" font-weight="normal" textLength="131" lengthAdjust="spacingAndGlyphs">C promoter/<tspan font-style="italic">EBNALP</tspan> exon 1-2 (9501-15000, 5500 nt)</text>
<rect x="21.10" y="659.40" width="14.40" height="42.00" fill="#d4d4d4" />
<rect x="68.30" y="659.40" width="3.50" height="42.00" fill="#d8d8d8" />
<rect x="158.50" y="660.00" width="1.80" height="45.70" fill="#d4d4d4" />
<rect x="162.90" y="660.00" width="3.40" height="45.70" fill="#d4d4d4" />
<rect x="16.40" y="661.10" width="154.20" height="2.80" fill="#86e6c8" />
<rect x="51.60" y="663.90" width="49.80" height="2.90" fill="#1fbf80" />
<rect x="16.40" y="666.80" width="154.20" height="3.00" fill="#f8b4b4" />
<rect x="59.70" y="669.80" width="86.70" height="2.30" fill="#ee1c24" />
<rect x="64.90" y="672.00" width="9.50" height="2.30" fill="#ee1c24" />
<rect x="69.20" y="674.60" width="11.20" height="2.30" fill="#d0102a" />
<rect x="69.20" y="677.20" width="31.70" height="2.90" fill="#f7941d" />
<rect x="16.40" y="680.30" width="144.40" height="2.20" fill="#a88ccc" />
<rect x="16.40" y="682.50" width="154.20" height="2.50" fill="#e4d8f0" />
<rect x="16.40" y="685.80" width="8.60" height="1.80" fill="#a08ac8" />
<rect x="163.70" y="685.80" width="6.10" height="1.80" fill="#a08ac8" />
<rect x="76.00" y="688.40" width="16.00" height="1.20" fill="#f4a0a0" />
<rect x="62.00" y="691.00" width="6.00" height="2.30" fill="#1c3fbf" />
<rect x="83.90" y="694.50" width="2.10" height="1.80" fill="#1c3fbf" />
<rect x="83.90" y="697.00" width="2.10" height="1.80" fill="#1c3fbf" />
<rect x="68.30" y="704.00" width="102.30" height="1.70" fill="#1fb9df" />
<rect x="158.50" y="702.50" width="2.10" height="4.50" fill="#1fb9df" />
<rect x="162.90" y="702.50" width="3.40" height="4.50" fill="#1fb9df" />
<rect x="66.50" y="702.00" width="2.00" height="5.00" fill="#333" />
<rect x="21.10" y="703.20" width="14.40" height="3.90" fill="#1fbf80" />
<line x1="66.60" y1="706.60" x2="61.40" y2="711.00" stroke="#333" stroke-width="0.8" />
<text x="19.90" y="716.20" font-size="6.5" text-anchor="start" fill="#222" font-weight="normal" font-style="italic" textLength="16.4" lengthAdjust="spacingAndGlyphs">BCRF1</text>
<text x="46.70" y="716.20" font-size="6.5" text-anchor="start" fill="#222" font-weight="normal" textLength="29.1" lengthAdjust="spacingAndGlyphs">C promoter</text>
<text x="102.00" y="716.20" font-size="6.5" text-anchor="start" fill="#222" font-weight="normal" font-style="italic" textLength="20.7" lengthAdjust="spacingAndGlyphs">EBNALP</text>
<text x="185.60" y="652.70" font-size="11.5" text-anchor="start" fill="#000" font-weight="bold">H</text>
<text x="223.30" y="656.20" font-size="6.1" text-anchor="start" fill="#222" font-weight="normal" textLength="80" lengthAdjust="spacingAndGlyphs"><tspan font-style="italic">EBNA2</tspan> (32001-42000, 10000 nt)</text>
<rect x="218.40" y="658.80" width="17.50" height="36.80" fill="#d2d2d2" />
<rect x="251.90" y="658.80" width="22.50" height="36.80" fill="#d2d2d2" />
<rect x="284.20" y="658.80" width="29.70" height="36.80" fill="#d2d2d2" />
<rect x="202.00" y="658.80" width="4.10" height="36.80" fill="#ececec" />
<rect x="240.30" y="658.80" width="3.60" height="36.80" fill="#ececec" />
<rect x="202.00" y="658.80" width="1.00" height="36.80" fill="#c4c4c4" />
<rect x="205.10" y="658.80" width="1.00" height="36.80" fill="#c4c4c4" />
<rect x="240.30" y="658.80" width="1.00" height="36.80" fill="#c4c4c4" />
<rect x="242.90" y="658.80" width="1.00" height="36.80" fill="#c4c4c4" />
<rect x="186.90" y="661.60" width="153.50" height="2.90" fill="#86e6c8" />
<rect x="309.80" y="664.50" width="2.50" height="2.50" fill="#1a9a60" />
<rect x="186.90" y="667.00" width="153.50" height="2.70" fill="#f6a8a8" />
<rect x="186.90" y="667.80" width="153.50" height="1.10" fill="#fcdede" />
<rect x="238.30" y="669.60" width="12.00" height="3.00" fill="#fde8e8" stroke="#f08888" stroke-width="0.6"/>
<rect x="280.90" y="672.70" width="3.30" height="2.40" fill="#ee1c24" />
<rect x="333.50" y="675.10" width="4.90" height="2.50" fill="#ee1c24" />
<rect x="309.80" y="677.60" width="2.50" height="2.40" fill="#f0a040" />
<rect x="186.90" y="680.80" width="153.50" height="2.50" fill="#e2d8ea" />
<rect x="207.80" y="683.30" width="104.80" height="4.90" fill="#a890cf" />
<rect x="245.40" y="689.00" width="1.60" height="1.60" fill="#e05070" />
<rect x="251.90" y="689.20" width="88.50" height="1.00" fill="#f6c8c8" />
<rect x="251.90" y="692.00" width="88.50" height="1.00" fill="#f6d0d0" />
<rect x="186.90" y="699.30" width="87.80" height="1.50" fill="#1fb9df" />
<rect x="202.00" y="697.50" width="4.10" height="5.00" fill="#1fb9df" />
<rect x="240.50" y="697.50" width="3.20" height="5.00" fill="#1fb9df" />
<path d="M274.7,697.8 L277,700 L274.7,702.2 Z" fill="#1fb9df" />
<rect x="218.40" y="705.40" width="17.50" height="4.00" fill="#1fbf80" />
<path d="M250.3,707.4 L253,705.4 L273,705.4 Q275,707.4 273,709.4 L253,709.4 Z" fill="#1fb9df" />
<rect x="284.20" y="705.40" width="29.80" height="4.00" fill="#1fbf80" />
<text x="277.20" y="701.80" font-size="6.5" text-anchor="start" fill="#222" font-weight="normal" font-style="italic" textLength="22.8" lengthAdjust="spacingAndGlyphs">EBNA-LP</text>
<text x="217.90" y="715.60" font-size="6.5" text-anchor="start" fill="#222" font-weight="normal" font-style="italic" textLength="18" lengthAdjust="spacingAndGlyphs">BWRF1</text>
<text x="253.50" y="715.60" font-size="6.5" text-anchor="start" fill="#222" font-weight="normal" font-style="italic" textLength="17.9" lengthAdjust="spacingAndGlyphs">EBNA2</text>
<text x="291.00" y="715.60" font-size="6.5" text-anchor="start" fill="#222" font-weight="normal" font-style="italic" textLength="15.6" lengthAdjust="spacingAndGlyphs">BHLF1</text>
<rect x="354.60" y="644.00" width="2.80" height="8.30" fill="#000" />
<text x="381.00" y="650.20" font-size="6.1" text-anchor="start" fill="#222" font-weight="normal" textLength="98.3" lengthAdjust="spacingAndGlyphs">BALF genes (153001-167000, 14000 nt)</text>
<rect x="360.10" y="653.70" width="139.10" height="59.00" fill="#d0d0d0" />
<rect x="395.40" y="653.70" width="1.60" height="59.00" fill="#f4f4f4" />
<rect x="423.50" y="653.70" width="1.60" height="59.00" fill="#f4f4f4" />
<rect x="447.30" y="653.70" width="1.60" height="59.00" fill="#f4f4f4" />
<rect x="483.10" y="653.70" width="1.60" height="59.00" fill="#f4f4f4" />
<rect x="490.50" y="653.70" width="1.60" height="59.00" fill="#f4f4f4" />
<rect x="360.40" y="654.60" width="36.80" height="1.60" fill="#c8f4e4" stroke="#5fdcb0" stroke-width="0.7"/>
<rect x="376.10" y="656.30" width="13.90" height="3.00" fill="#1fbf80" />
<rect x="417.60" y="659.60" width="24.50" height="2.20" fill="#1fbf80" />
<rect x="419.00" y="661.80" width="79.30" height="2.20" fill="#1fbf80" />
<rect x="420.30" y="664.00" width="43.40" height="1.70" fill="#c8f4e4" stroke="#5fdcb0" stroke-width="0.6"/>
<rect x="437.80" y="667.20" width="23.30" height="2.40" fill="#1fbf80" />
<rect x="438.50" y="669.80" width="41.70" height="1.60" fill="#c8f4e4" stroke="#5fdcb0" stroke-width="0.6"/>
<rect x="451.40" y="672.80" width="40.90" height="1.60" fill="#c8f4e4" stroke="#5fdcb0" stroke-width="0.6"/>
<rect x="360.10" y="675.60" width="5.90" height="2.00" fill="#ee1c24" />
<rect x="360.10" y="677.90" width="24.20" height="2.10" fill="#f49090" />
<rect x="363.00" y="680.30" width="79.00" height="3.10" fill="#ee1c24" />
<rect x="360.40" y="686.80" width="46.80" height="1.60" fill="#eee8f4" stroke="#c8b8e0" stroke-width="0.6"/>
<rect x="499.20" y="684.10" width="3.50" height="1.70" fill="#f0a030" />
<rect x="475.00" y="689.30" width="28.50" height="2.10" fill="#a890cf" />
<rect x="360.10" y="694.70" width="8.70" height="2.20" fill="#a890cf" />
<rect x="507.50" y="694.50" width="4.70" height="1.70" fill="#a890cf" />
<rect x="360.10" y="697.20" width="143.40" height="6.40" fill="#fde4e4" />
<rect x="360.10" y="697.20" width="143.40" height="0.96" fill="#f8c4c4" />
<rect x="360.10" y="698.80" width="143.40" height="0.96" fill="#f8c4c4" />
<rect x="360.10" y="700.40" width="143.40" height="0.96" fill="#f8c4c4" />
<rect x="360.10" y="702.00" width="143.40" height="0.96" fill="#f8c4c4" />
<rect x="360.10" y="704.80" width="142.60" height="2.80" fill="#92b4ec" />
<rect x="362.30" y="708.80" width="32.70" height="3.90" fill="#f47e5b" />
<rect x="397.40" y="708.80" width="26.10" height="3.90" fill="#f47e5b" />
<rect x="425.50" y="708.80" width="21.50" height="3.90" fill="#f47e5b" />
<rect x="449.00" y="708.80" width="33.80" height="3.90" fill="#f47e5b" />
<rect x="484.50" y="708.80" width="5.70" height="3.90" fill="#1fbf80" />
<rect x="492.00" y="708.80" width="6.90" height="3.90" fill="#1fbf80" />
<text x="371.20" y="719.50" font-size="6.6" text-anchor="start" fill="#222" font-weight="normal" font-style="italic" textLength="15.6" lengthAdjust="spacingAndGlyphs">BALF5</text>
<text x="403.10" y="719.50" font-size="6.6" text-anchor="start" fill="#222" font-weight="normal" font-style="italic" textLength="14.7" lengthAdjust="spacingAndGlyphs">BALF4</text>
<text x="428.50" y="719.50" font-size="6.6" text-anchor="start" fill="#222" font-weight="normal" font-style="italic" textLength="15.3" lengthAdjust="spacingAndGlyphs">BALF3</text>
<text x="456.80" y="719.50" font-size="6.6" text-anchor="start" fill="#222" font-weight="normal" font-style="italic" textLength="15.6" lengthAdjust="spacingAndGlyphs">BALF2</text>
<text x="477.60" y="719.50" font-size="6.6" text-anchor="start" fill="#222" font-weight="normal" font-style="italic" textLength="16.1" lengthAdjust="spacingAndGlyphs">BALF1</text>
<text x="495.40" y="719.50" font-size="6.6" text-anchor="start" fill="#222" font-weight="normal" font-style="italic" textLength="15.9" lengthAdjust="spacingAndGlyphs">BARF1</text>
<rect x="0.5" y="0.5" width="519" height="725" fill="none" stroke="#4a4a4a" stroke-width="1"/>
<rect x="0" y="724.6" width="520" height="1.4" fill="#3a3a3a"/>
</svg></body></html>
